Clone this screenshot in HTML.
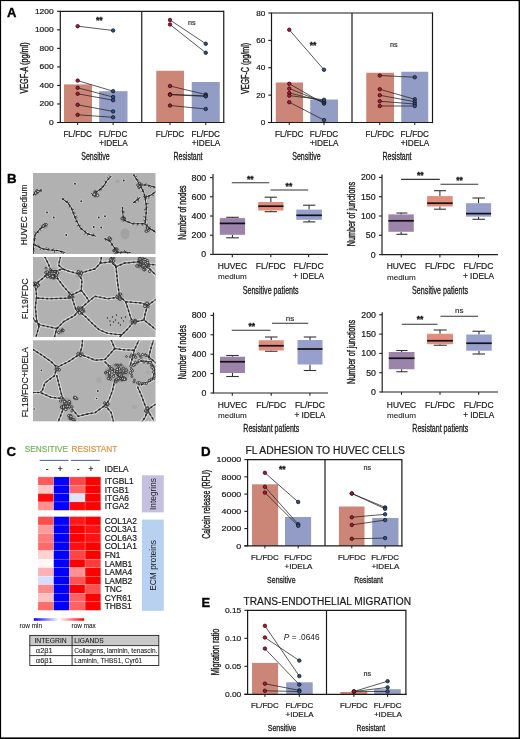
<!DOCTYPE html>
<html><head><meta charset="utf-8"><title>Figure</title>
<style>
html,body{margin:0;padding:0;background:#fff;}
body{width:520px;height:739px;overflow:hidden;}
svg{display:block;font-family:"Liberation Sans", sans-serif;will-change:transform;}
</style></head>
<body>
<svg width="520" height="739" viewBox="0 0 520 739">
<defs><clipPath id="c0"><rect x="33" y="173" width="122.5" height="81"/></clipPath><clipPath id="c1"><rect x="33" y="257" width="122.5" height="80"/></clipPath><clipPath id="c2"><rect x="33" y="340.3" width="122.5" height="81"/></clipPath></defs>
<rect x="0" y="0" width="520" height="739" fill="#fff"/>
<rect x="0" y="0" width="520" height="1.1" fill="#000"/>
<rect x="0" y="0" width="1.1" height="739" fill="#000"/>
<rect x="518.6" y="0" width="1.4" height="739" fill="#000"/>
<rect x="0" y="737.4" width="520" height="1.6" fill="#000"/>
<text x="6.9" y="17.4" font-size="13" font-weight="bold" fill="#000" stroke="#000" stroke-width="0.35">A</text>
<rect x="64" y="84.4" width="28" height="38.099999999999994" fill="#cc8678"/>
<rect x="99.2" y="91.2" width="28.3" height="31.299999999999997" fill="#929cc4"/>
<rect x="156.25" y="70.75" width="27.75" height="51.75" fill="#cc8678"/>
<rect x="191.75" y="82" width="28" height="40.5" fill="#929cc4"/>
<line x1="57.099999999999994" y1="122.5" x2="60.3" y2="122.5" stroke="#1a1a1a" stroke-width="1.1"/>
<text x="53.7" y="125.0" font-size="7.2" text-anchor="end" textLength="4.7" lengthAdjust="spacingAndGlyphs" fill="#1a1a1a" stroke="#1a1a1a" stroke-width="0.2">0</text>
<line x1="57.099999999999994" y1="103.96666666666667" x2="60.3" y2="103.96666666666667" stroke="#1a1a1a" stroke-width="1.1"/>
<text x="53.7" y="106.47" font-size="7.2" text-anchor="end" textLength="14.1" lengthAdjust="spacingAndGlyphs" fill="#1a1a1a" stroke="#1a1a1a" stroke-width="0.2">200</text>
<line x1="57.099999999999994" y1="85.43333333333334" x2="60.3" y2="85.43333333333334" stroke="#1a1a1a" stroke-width="1.1"/>
<text x="53.7" y="87.93" font-size="7.2" text-anchor="end" textLength="14.1" lengthAdjust="spacingAndGlyphs" fill="#1a1a1a" stroke="#1a1a1a" stroke-width="0.2">400</text>
<line x1="57.099999999999994" y1="66.9" x2="60.3" y2="66.9" stroke="#1a1a1a" stroke-width="1.1"/>
<text x="53.7" y="69.4" font-size="7.2" text-anchor="end" textLength="14.1" lengthAdjust="spacingAndGlyphs" fill="#1a1a1a" stroke="#1a1a1a" stroke-width="0.2">600</text>
<line x1="57.099999999999994" y1="48.36666666666666" x2="60.3" y2="48.36666666666666" stroke="#1a1a1a" stroke-width="1.1"/>
<text x="53.7" y="50.87" font-size="7.2" text-anchor="end" textLength="14.1" lengthAdjust="spacingAndGlyphs" fill="#1a1a1a" stroke="#1a1a1a" stroke-width="0.2">800</text>
<line x1="57.099999999999994" y1="29.83333333333333" x2="60.3" y2="29.83333333333333" stroke="#1a1a1a" stroke-width="1.1"/>
<text x="53.7" y="32.33" font-size="7.2" text-anchor="end" textLength="18.8" lengthAdjust="spacingAndGlyphs" fill="#1a1a1a" stroke="#1a1a1a" stroke-width="0.2">1000</text>
<line x1="57.099999999999994" y1="11.299999999999997" x2="60.3" y2="11.299999999999997" stroke="#1a1a1a" stroke-width="1.1"/>
<text x="53.7" y="13.8" font-size="7.2" text-anchor="end" textLength="18.8" lengthAdjust="spacingAndGlyphs" fill="#1a1a1a" stroke="#1a1a1a" stroke-width="0.2">1200</text>
<line x1="60.3" y1="11.3" x2="60.3" y2="123.05" stroke="#1a1a1a" stroke-width="1.2"/>
<line x1="59.699999999999996" y1="11.3" x2="223.75" y2="11.3" stroke="#1a1a1a" stroke-width="1.2"/>
<line x1="223.75" y1="10.700000000000001" x2="223.75" y2="123.1" stroke="#1a1a1a" stroke-width="1.2"/>
<line x1="141.75" y1="11.3" x2="141.75" y2="122.5" stroke="#1a1a1a" stroke-width="1.2"/>
<line x1="57.099999999999994" y1="122.5" x2="224.35" y2="122.5" stroke="#1a1a1a" stroke-width="1.2"/>
<line x1="77.65" y1="122.5" x2="77.65" y2="125.1" stroke="#1a1a1a" stroke-width="1"/>
<line x1="113.1" y1="122.5" x2="113.1" y2="125.1" stroke="#1a1a1a" stroke-width="1"/>
<line x1="170" y1="122.5" x2="170" y2="125.1" stroke="#1a1a1a" stroke-width="1"/>
<line x1="205.75" y1="122.5" x2="205.75" y2="125.1" stroke="#1a1a1a" stroke-width="1"/>
<line x1="77.65" y1="26.2" x2="113.1" y2="30.5" stroke="#222" stroke-width="0.75"/>
<line x1="77.65" y1="80.6" x2="113.1" y2="91.2" stroke="#222" stroke-width="0.75"/>
<line x1="77.65" y1="87.8" x2="113.1" y2="97" stroke="#222" stroke-width="0.75"/>
<line x1="77.65" y1="93.8" x2="113.1" y2="100.2" stroke="#222" stroke-width="0.75"/>
<line x1="77.65" y1="104.8" x2="113.1" y2="111.4" stroke="#222" stroke-width="0.75"/>
<line x1="77.65" y1="114.8" x2="113.1" y2="117.3" stroke="#222" stroke-width="0.75"/>
<circle cx="77.65" cy="26.2" r="1.75" fill="#c40a2c" stroke="#141414" stroke-width="0.75"/>
<circle cx="113.1" cy="30.5" r="1.75" fill="#28508c" stroke="#141414" stroke-width="0.75"/>
<circle cx="77.65" cy="80.6" r="1.75" fill="#c40a2c" stroke="#141414" stroke-width="0.75"/>
<circle cx="113.1" cy="91.2" r="1.75" fill="#28508c" stroke="#141414" stroke-width="0.75"/>
<circle cx="77.65" cy="87.8" r="1.75" fill="#c40a2c" stroke="#141414" stroke-width="0.75"/>
<circle cx="113.1" cy="97" r="1.75" fill="#28508c" stroke="#141414" stroke-width="0.75"/>
<circle cx="77.65" cy="93.8" r="1.75" fill="#c40a2c" stroke="#141414" stroke-width="0.75"/>
<circle cx="113.1" cy="100.2" r="1.75" fill="#28508c" stroke="#141414" stroke-width="0.75"/>
<circle cx="77.65" cy="104.8" r="1.75" fill="#c40a2c" stroke="#141414" stroke-width="0.75"/>
<circle cx="113.1" cy="111.4" r="1.75" fill="#28508c" stroke="#141414" stroke-width="0.75"/>
<circle cx="77.65" cy="114.8" r="1.75" fill="#c40a2c" stroke="#141414" stroke-width="0.75"/>
<circle cx="113.1" cy="117.3" r="1.75" fill="#28508c" stroke="#141414" stroke-width="0.75"/>
<line x1="170" y1="20.0" x2="205.75" y2="43.75" stroke="#222" stroke-width="0.75"/>
<line x1="170" y1="24.5" x2="205.75" y2="52.75" stroke="#222" stroke-width="0.75"/>
<line x1="170" y1="86" x2="205.75" y2="94.5" stroke="#222" stroke-width="0.75"/>
<line x1="170" y1="94.25" x2="205.75" y2="96" stroke="#222" stroke-width="0.75"/>
<line x1="170" y1="94.75" x2="205.75" y2="96.3" stroke="#222" stroke-width="0.75"/>
<line x1="170" y1="105.5" x2="205.75" y2="109" stroke="#222" stroke-width="0.75"/>
<circle cx="170" cy="20.0" r="1.75" fill="#c40a2c" stroke="#141414" stroke-width="0.75"/>
<circle cx="205.75" cy="43.75" r="1.75" fill="#28508c" stroke="#141414" stroke-width="0.75"/>
<circle cx="170" cy="24.5" r="1.75" fill="#c40a2c" stroke="#141414" stroke-width="0.75"/>
<circle cx="205.75" cy="52.75" r="1.75" fill="#28508c" stroke="#141414" stroke-width="0.75"/>
<circle cx="170" cy="86" r="1.75" fill="#c40a2c" stroke="#141414" stroke-width="0.75"/>
<circle cx="205.75" cy="94.5" r="1.75" fill="#28508c" stroke="#141414" stroke-width="0.75"/>
<circle cx="170" cy="94.25" r="1.75" fill="#c40a2c" stroke="#141414" stroke-width="0.75"/>
<circle cx="205.75" cy="96" r="1.75" fill="#28508c" stroke="#141414" stroke-width="0.75"/>
<circle cx="170" cy="94.75" r="1.75" fill="#c40a2c" stroke="#141414" stroke-width="0.75"/>
<circle cx="205.75" cy="96.3" r="1.75" fill="#28508c" stroke="#141414" stroke-width="0.75"/>
<circle cx="170" cy="105.5" r="1.75" fill="#c40a2c" stroke="#141414" stroke-width="0.75"/>
<circle cx="205.75" cy="109" r="1.75" fill="#28508c" stroke="#141414" stroke-width="0.75"/>
<text x="99.3" y="23.1" font-size="8.5" text-anchor="middle" font-weight="bold" fill="#1a1a1a" stroke="#1a1a1a" stroke-width="0.35">**</text>
<text x="191.75" y="24.5" font-size="7.2" text-anchor="middle" fill="#333" stroke="#333" stroke-width="0.2">ns</text>
<text x="28.2" y="68" font-size="10" text-anchor="middle" textLength="51.2" lengthAdjust="spacingAndGlyphs" stroke="#1a1a1a" stroke-width="0.38" fill="#1a1a1a" transform="rotate(-90 28.2 68)">VEGF-A (pg/ml)</text>
<rect x="275.75" y="82.5" width="27.25" height="40.0" fill="#cc8678"/>
<rect x="310.25" y="99.5" width="27.75" height="23.0" fill="#929cc4"/>
<rect x="366.25" y="72.75" width="27.75" height="49.75" fill="#cc8678"/>
<rect x="401.25" y="71.75" width="27" height="50.75" fill="#929cc4"/>
<line x1="268.3" y1="122.5" x2="271.5" y2="122.5" stroke="#1a1a1a" stroke-width="1.1"/>
<text x="265.4" y="125.0" font-size="7.2" text-anchor="end" textLength="4.55" lengthAdjust="spacingAndGlyphs" fill="#1a1a1a" stroke="#1a1a1a" stroke-width="0.2">0</text>
<line x1="268.3" y1="95.125" x2="271.5" y2="95.125" stroke="#1a1a1a" stroke-width="1.1"/>
<text x="265.4" y="97.62" font-size="7.2" text-anchor="end" textLength="9.1" lengthAdjust="spacingAndGlyphs" fill="#1a1a1a" stroke="#1a1a1a" stroke-width="0.2">20</text>
<line x1="268.3" y1="67.75" x2="271.5" y2="67.75" stroke="#1a1a1a" stroke-width="1.1"/>
<text x="265.4" y="70.25" font-size="7.2" text-anchor="end" textLength="9.1" lengthAdjust="spacingAndGlyphs" fill="#1a1a1a" stroke="#1a1a1a" stroke-width="0.2">40</text>
<line x1="268.3" y1="40.375" x2="271.5" y2="40.375" stroke="#1a1a1a" stroke-width="1.1"/>
<text x="265.4" y="42.88" font-size="7.2" text-anchor="end" textLength="9.1" lengthAdjust="spacingAndGlyphs" fill="#1a1a1a" stroke="#1a1a1a" stroke-width="0.2">60</text>
<line x1="268.3" y1="13.0" x2="271.5" y2="13.0" stroke="#1a1a1a" stroke-width="1.1"/>
<text x="265.4" y="15.5" font-size="7.2" text-anchor="end" textLength="9.1" lengthAdjust="spacingAndGlyphs" fill="#1a1a1a" stroke="#1a1a1a" stroke-width="0.2">80</text>
<line x1="271.5" y1="13" x2="271.5" y2="123.05" stroke="#1a1a1a" stroke-width="1.2"/>
<line x1="270.9" y1="13" x2="432.5" y2="13" stroke="#1a1a1a" stroke-width="1.2"/>
<line x1="432.5" y1="12.4" x2="432.5" y2="123.1" stroke="#1a1a1a" stroke-width="1.2"/>
<line x1="352" y1="13" x2="352" y2="122.5" stroke="#1a1a1a" stroke-width="1.2"/>
<line x1="268.3" y1="122.5" x2="433.1" y2="122.5" stroke="#1a1a1a" stroke-width="1.2"/>
<line x1="289.25" y1="122.5" x2="289.25" y2="125.1" stroke="#1a1a1a" stroke-width="1"/>
<line x1="324" y1="122.5" x2="324" y2="125.1" stroke="#1a1a1a" stroke-width="1"/>
<line x1="379.75" y1="122.5" x2="379.75" y2="125.1" stroke="#1a1a1a" stroke-width="1"/>
<line x1="414.75" y1="122.5" x2="414.75" y2="125.1" stroke="#1a1a1a" stroke-width="1"/>
<line x1="289.25" y1="29.75" x2="324" y2="69.75" stroke="#222" stroke-width="0.75"/>
<line x1="289.25" y1="83.8" x2="324" y2="103.6" stroke="#222" stroke-width="0.75"/>
<line x1="289.25" y1="88.6" x2="324" y2="102.4" stroke="#222" stroke-width="0.75"/>
<line x1="289.25" y1="93" x2="324" y2="101.4" stroke="#222" stroke-width="0.75"/>
<line x1="289.25" y1="95.65" x2="324" y2="99.8" stroke="#222" stroke-width="0.75"/>
<line x1="289.25" y1="102.2" x2="324" y2="120.1" stroke="#222" stroke-width="0.75"/>
<circle cx="289.25" cy="29.75" r="1.75" fill="#c40a2c" stroke="#141414" stroke-width="0.75"/>
<circle cx="324" cy="69.75" r="1.75" fill="#28508c" stroke="#141414" stroke-width="0.75"/>
<circle cx="289.25" cy="83.8" r="1.75" fill="#c40a2c" stroke="#141414" stroke-width="0.75"/>
<circle cx="324" cy="103.6" r="1.75" fill="#28508c" stroke="#141414" stroke-width="0.75"/>
<circle cx="289.25" cy="88.6" r="1.75" fill="#c40a2c" stroke="#141414" stroke-width="0.75"/>
<circle cx="324" cy="102.4" r="1.75" fill="#28508c" stroke="#141414" stroke-width="0.75"/>
<circle cx="289.25" cy="93" r="1.75" fill="#c40a2c" stroke="#141414" stroke-width="0.75"/>
<circle cx="324" cy="101.4" r="1.75" fill="#28508c" stroke="#141414" stroke-width="0.75"/>
<circle cx="289.25" cy="95.65" r="1.75" fill="#c40a2c" stroke="#141414" stroke-width="0.75"/>
<circle cx="324" cy="99.8" r="1.75" fill="#28508c" stroke="#141414" stroke-width="0.75"/>
<circle cx="289.25" cy="102.2" r="1.75" fill="#c40a2c" stroke="#141414" stroke-width="0.75"/>
<circle cx="324" cy="120.1" r="1.75" fill="#28508c" stroke="#141414" stroke-width="0.75"/>
<line x1="379.75" y1="75.5" x2="414.75" y2="77.25" stroke="#222" stroke-width="0.75"/>
<line x1="379.75" y1="89.25" x2="414.75" y2="99.25" stroke="#222" stroke-width="0.75"/>
<line x1="379.75" y1="95.25" x2="414.75" y2="101.75" stroke="#222" stroke-width="0.75"/>
<line x1="379.75" y1="101.25" x2="414.75" y2="104" stroke="#222" stroke-width="0.75"/>
<line x1="379.75" y1="106" x2="414.75" y2="106" stroke="#222" stroke-width="0.75"/>
<circle cx="379.75" cy="75.5" r="1.75" fill="#c40a2c" stroke="#141414" stroke-width="0.75"/>
<circle cx="414.75" cy="77.25" r="1.75" fill="#28508c" stroke="#141414" stroke-width="0.75"/>
<circle cx="379.75" cy="89.25" r="1.75" fill="#c40a2c" stroke="#141414" stroke-width="0.75"/>
<circle cx="414.75" cy="99.25" r="1.75" fill="#28508c" stroke="#141414" stroke-width="0.75"/>
<circle cx="379.75" cy="95.25" r="1.75" fill="#c40a2c" stroke="#141414" stroke-width="0.75"/>
<circle cx="414.75" cy="101.75" r="1.75" fill="#28508c" stroke="#141414" stroke-width="0.75"/>
<circle cx="379.75" cy="101.25" r="1.75" fill="#c40a2c" stroke="#141414" stroke-width="0.75"/>
<circle cx="414.75" cy="104" r="1.75" fill="#28508c" stroke="#141414" stroke-width="0.75"/>
<circle cx="379.75" cy="106" r="1.75" fill="#c40a2c" stroke="#141414" stroke-width="0.75"/>
<circle cx="414.75" cy="106" r="1.75" fill="#28508c" stroke="#141414" stroke-width="0.75"/>
<text x="313" y="48.1" font-size="8.5" text-anchor="middle" font-weight="bold" fill="#1a1a1a" stroke="#1a1a1a" stroke-width="0.35">**</text>
<text x="393.75" y="46.5" font-size="7.2" text-anchor="middle" fill="#333" stroke="#333" stroke-width="0.2">ns</text>
<text x="249.0" y="68.4" font-size="10" text-anchor="middle" textLength="51.2" lengthAdjust="spacingAndGlyphs" stroke="#1a1a1a" stroke-width="0.38" fill="#1a1a1a" transform="rotate(-90 249.0 68.4)">VEGF-C (pg/ml)</text>
<text x="77.65" y="137.1" font-size="8.3" text-anchor="middle" textLength="28.5" lengthAdjust="spacingAndGlyphs" fill="#1a1a1a" stroke="#1a1a1a" stroke-width="0.2">FL/FDC</text>
<text x="113.1" y="137.1" font-size="8.3" text-anchor="middle" textLength="28.5" lengthAdjust="spacingAndGlyphs" fill="#1a1a1a" stroke="#1a1a1a" stroke-width="0.2">FL/FDC</text>
<text x="113.39999999999999" y="146.0" font-size="8.3" text-anchor="middle" textLength="28.5" lengthAdjust="spacingAndGlyphs" fill="#1a1a1a" stroke="#1a1a1a" stroke-width="0.2">+IDELA</text>
<text x="170" y="137.1" font-size="8.3" text-anchor="middle" textLength="28.5" lengthAdjust="spacingAndGlyphs" fill="#1a1a1a" stroke="#1a1a1a" stroke-width="0.2">FL/FDC</text>
<text x="205.75" y="137.1" font-size="8.3" text-anchor="middle" textLength="28.5" lengthAdjust="spacingAndGlyphs" fill="#1a1a1a" stroke="#1a1a1a" stroke-width="0.2">FL/FDC</text>
<text x="206.05" y="146.0" font-size="8.3" text-anchor="middle" textLength="28.5" lengthAdjust="spacingAndGlyphs" fill="#1a1a1a" stroke="#1a1a1a" stroke-width="0.2">+IDELA</text>
<text x="289.25" y="137.1" font-size="8.3" text-anchor="middle" textLength="28.5" lengthAdjust="spacingAndGlyphs" fill="#1a1a1a" stroke="#1a1a1a" stroke-width="0.2">FL/FDC</text>
<text x="324" y="137.1" font-size="8.3" text-anchor="middle" textLength="28.5" lengthAdjust="spacingAndGlyphs" fill="#1a1a1a" stroke="#1a1a1a" stroke-width="0.2">FL/FDC</text>
<text x="324.3" y="146.0" font-size="8.3" text-anchor="middle" textLength="28.5" lengthAdjust="spacingAndGlyphs" fill="#1a1a1a" stroke="#1a1a1a" stroke-width="0.2">+IDELA</text>
<text x="379.75" y="137.1" font-size="8.3" text-anchor="middle" textLength="28.5" lengthAdjust="spacingAndGlyphs" fill="#1a1a1a" stroke="#1a1a1a" stroke-width="0.2">FL/FDC</text>
<text x="414.75" y="137.1" font-size="8.3" text-anchor="middle" textLength="28.5" lengthAdjust="spacingAndGlyphs" fill="#1a1a1a" stroke="#1a1a1a" stroke-width="0.2">FL/FDC</text>
<text x="415.05" y="146.0" font-size="8.3" text-anchor="middle" textLength="28.5" lengthAdjust="spacingAndGlyphs" fill="#1a1a1a" stroke="#1a1a1a" stroke-width="0.2">+IDELA</text>
<text x="95.5" y="159.8" font-size="10.5" text-anchor="middle" textLength="28.5" lengthAdjust="spacingAndGlyphs" fill="#1a1a1a" stroke="#1a1a1a" stroke-width="0.3">Sensitive</text>
<text x="188" y="159.8" font-size="10.5" text-anchor="middle" textLength="29" lengthAdjust="spacingAndGlyphs" fill="#1a1a1a" stroke="#1a1a1a" stroke-width="0.3">Resistant</text>
<text x="306.5" y="159.8" font-size="10.5" text-anchor="middle" textLength="28.5" lengthAdjust="spacingAndGlyphs" fill="#1a1a1a" stroke="#1a1a1a" stroke-width="0.3">Sensitive</text>
<text x="397" y="159.8" font-size="10.5" text-anchor="middle" textLength="29" lengthAdjust="spacingAndGlyphs" fill="#1a1a1a" stroke="#1a1a1a" stroke-width="0.3">Resistant</text>
<text x="7.1" y="183.4" font-size="13.3" font-weight="bold" fill="#000" stroke="#000" stroke-width="0.35">B</text>
<rect x="33" y="173" width="122.5" height="81" fill="#b1b1b1"/>
<g clip-path="url(#c0)">
<ellipse cx="125.0" cy="233.75" rx="4.5" ry="5.5" fill="#a2a2a2"/>
<ellipse cx="117.5" cy="181.25" rx="2" ry="2" fill="#a6a6a6"/>
<path d="M62.5 198.8 L67.5 202.5 L71.2 207.5 L75.0 217.5 L80.0 227.5 L87.5 233.8 L96.2 236.2" fill="none" stroke="#e2e2e2" stroke-width="2.55" stroke-linejoin="round" stroke-linecap="round" opacity="0.8"/>
<path d="M33.0 195.0 L37.5 192.0 L41.2 190.0" fill="none" stroke="#e2e2e2" stroke-width="2.55" stroke-linejoin="round" stroke-linecap="round" opacity="0.8"/>
<path d="M92.5 195.0 L97.5 191.2 L102.5 187.5 L107.5 180.0 L111.2 176.2" fill="none" stroke="#e2e2e2" stroke-width="2.55" stroke-linejoin="round" stroke-linecap="round" opacity="0.8"/>
<path d="M33.0 253.8 L33.8 245.0 L35.0 235.0 L40.0 228.8 L45.0 226.2" fill="none" stroke="#e2e2e2" stroke-width="2.55" stroke-linejoin="round" stroke-linecap="round" opacity="0.8"/>
<path d="M35.0 245.0 L42.5 248.8 L50.0 250.0 L57.5 250.5 L65.0 252.5" fill="none" stroke="#e2e2e2" stroke-width="2.55" stroke-linejoin="round" stroke-linecap="round" opacity="0.8"/>
<path d="M133.8 175.0 L140.0 185.0 L143.8 192.5 L145.0 197.5 L146.2 205.0 L146.2 212.5 L145.0 223.8 L150.0 228.8 L156.2 232.5" fill="none" stroke="#e2e2e2" stroke-width="2.55" stroke-linejoin="round" stroke-linecap="round" opacity="0.8"/>
<path d="M140.0 185.0 L147.5 185.0 L156.2 187.5" fill="none" stroke="#e2e2e2" stroke-width="2.55" stroke-linejoin="round" stroke-linecap="round" opacity="0.8"/>
<path d="M145.0 197.5 L151.2 195.0 L156.2 191.2" fill="none" stroke="#e2e2e2" stroke-width="2.55" stroke-linejoin="round" stroke-linecap="round" opacity="0.8"/>
<path d="M122.5 207.5 L123.0 215.0 L123.8 220.0 L132.5 223.8 L145.0 223.8" fill="none" stroke="#e2e2e2" stroke-width="2.55" stroke-linejoin="round" stroke-linecap="round" opacity="0.8"/>
<path d="M105.0 238.8 L110.0 241.2 L112.5 245.0 L117.5 252.5 L123.8 252.0 L130.0 252.5" fill="none" stroke="#e2e2e2" stroke-width="2.55" stroke-linejoin="round" stroke-linecap="round" opacity="0.8"/>
<path d="M133.8 202.5 L140.0 197.5" fill="none" stroke="#e2e2e2" stroke-width="2.55" stroke-linejoin="round" stroke-linecap="round" opacity="0.8"/>
<ellipse cx="95.5" cy="193.75" rx="3.0" ry="4.0" fill="#8a8a8a" opacity="0.5"/>
<ellipse cx="123.0" cy="218.75" rx="2.5" ry="3.5" fill="#8a8a8a" opacity="0.5"/>
<ellipse cx="140.0" cy="185.5" rx="3.0" ry="3.0" fill="#8a8a8a" opacity="0.5"/>
<ellipse cx="45.0" cy="226.25" rx="3.0" ry="2.5" fill="#8a8a8a" opacity="0.5"/>
<ellipse cx="36.25" cy="192.5" rx="3.0" ry="2.5" fill="#8a8a8a" opacity="0.5"/>
<ellipse cx="116.25" cy="251.25" rx="3.5" ry="3.0" fill="#8a8a8a" opacity="0.5"/>
<ellipse cx="147.5" cy="230.0" rx="3.0" ry="3.0" fill="#8a8a8a" opacity="0.5"/>
<ellipse cx="110.0" cy="239.5" rx="2.5" ry="2.5" fill="#8a8a8a" opacity="0.5"/>
<path d="M62.5 198.8 L67.5 202.5 L71.2 207.5 L75.0 217.5 L80.0 227.5 L87.5 233.8 L96.2 236.2" fill="none" stroke="#3c3c3c" stroke-width="1.05" stroke-linejoin="round" stroke-linecap="round"/>
<path d="M62.5 198.8 L67.5 202.5 L71.2 207.5 L75.0 217.5 L80.0 227.5 L87.5 233.8 L96.2 236.2" fill="none" stroke="#1e1e1e" stroke-width="1.55" stroke-linecap="round" stroke-dasharray="0.8 3.7" opacity="0.8"/>
<path d="M33.0 195.0 L37.5 192.0 L41.2 190.0" fill="none" stroke="#3c3c3c" stroke-width="1.05" stroke-linejoin="round" stroke-linecap="round"/>
<path d="M33.0 195.0 L37.5 192.0 L41.2 190.0" fill="none" stroke="#1e1e1e" stroke-width="1.55" stroke-linecap="round" stroke-dasharray="0.8 3.7" opacity="0.8"/>
<path d="M92.5 195.0 L97.5 191.2 L102.5 187.5 L107.5 180.0 L111.2 176.2" fill="none" stroke="#3c3c3c" stroke-width="1.05" stroke-linejoin="round" stroke-linecap="round"/>
<path d="M92.5 195.0 L97.5 191.2 L102.5 187.5 L107.5 180.0 L111.2 176.2" fill="none" stroke="#1e1e1e" stroke-width="1.55" stroke-linecap="round" stroke-dasharray="0.8 3.7" opacity="0.8"/>
<path d="M33.0 253.8 L33.8 245.0 L35.0 235.0 L40.0 228.8 L45.0 226.2" fill="none" stroke="#3c3c3c" stroke-width="1.05" stroke-linejoin="round" stroke-linecap="round"/>
<path d="M33.0 253.8 L33.8 245.0 L35.0 235.0 L40.0 228.8 L45.0 226.2" fill="none" stroke="#1e1e1e" stroke-width="1.55" stroke-linecap="round" stroke-dasharray="0.8 3.7" opacity="0.8"/>
<path d="M35.0 245.0 L42.5 248.8 L50.0 250.0 L57.5 250.5 L65.0 252.5" fill="none" stroke="#3c3c3c" stroke-width="1.05" stroke-linejoin="round" stroke-linecap="round"/>
<path d="M35.0 245.0 L42.5 248.8 L50.0 250.0 L57.5 250.5 L65.0 252.5" fill="none" stroke="#1e1e1e" stroke-width="1.55" stroke-linecap="round" stroke-dasharray="0.8 3.7" opacity="0.8"/>
<path d="M133.8 175.0 L140.0 185.0 L143.8 192.5 L145.0 197.5 L146.2 205.0 L146.2 212.5 L145.0 223.8 L150.0 228.8 L156.2 232.5" fill="none" stroke="#3c3c3c" stroke-width="1.05" stroke-linejoin="round" stroke-linecap="round"/>
<path d="M133.8 175.0 L140.0 185.0 L143.8 192.5 L145.0 197.5 L146.2 205.0 L146.2 212.5 L145.0 223.8 L150.0 228.8 L156.2 232.5" fill="none" stroke="#1e1e1e" stroke-width="1.55" stroke-linecap="round" stroke-dasharray="0.8 3.7" opacity="0.8"/>
<path d="M140.0 185.0 L147.5 185.0 L156.2 187.5" fill="none" stroke="#3c3c3c" stroke-width="1.05" stroke-linejoin="round" stroke-linecap="round"/>
<path d="M140.0 185.0 L147.5 185.0 L156.2 187.5" fill="none" stroke="#1e1e1e" stroke-width="1.55" stroke-linecap="round" stroke-dasharray="0.8 3.7" opacity="0.8"/>
<path d="M145.0 197.5 L151.2 195.0 L156.2 191.2" fill="none" stroke="#3c3c3c" stroke-width="1.05" stroke-linejoin="round" stroke-linecap="round"/>
<path d="M145.0 197.5 L151.2 195.0 L156.2 191.2" fill="none" stroke="#1e1e1e" stroke-width="1.55" stroke-linecap="round" stroke-dasharray="0.8 3.7" opacity="0.8"/>
<path d="M122.5 207.5 L123.0 215.0 L123.8 220.0 L132.5 223.8 L145.0 223.8" fill="none" stroke="#3c3c3c" stroke-width="1.05" stroke-linejoin="round" stroke-linecap="round"/>
<path d="M122.5 207.5 L123.0 215.0 L123.8 220.0 L132.5 223.8 L145.0 223.8" fill="none" stroke="#1e1e1e" stroke-width="1.55" stroke-linecap="round" stroke-dasharray="0.8 3.7" opacity="0.8"/>
<path d="M105.0 238.8 L110.0 241.2 L112.5 245.0 L117.5 252.5 L123.8 252.0 L130.0 252.5" fill="none" stroke="#3c3c3c" stroke-width="1.05" stroke-linejoin="round" stroke-linecap="round"/>
<path d="M105.0 238.8 L110.0 241.2 L112.5 245.0 L117.5 252.5 L123.8 252.0 L130.0 252.5" fill="none" stroke="#1e1e1e" stroke-width="1.55" stroke-linecap="round" stroke-dasharray="0.8 3.7" opacity="0.8"/>
<path d="M133.8 202.5 L140.0 197.5" fill="none" stroke="#3c3c3c" stroke-width="1.05" stroke-linejoin="round" stroke-linecap="round"/>
<path d="M133.8 202.5 L140.0 197.5" fill="none" stroke="#1e1e1e" stroke-width="1.55" stroke-linecap="round" stroke-dasharray="0.8 3.7" opacity="0.8"/>
<path d="M63.3 199.4L63.8 198.4M67.1 202.2L67.5 201.2M68.5 203.8L69.0 202.4M69.8 205.6L69.3 207.2M72.1 209.9L73.6 209.5M73.1 212.4L74.2 212.1M73.5 213.5L75.1 213.1M74.7 216.7L76.4 216.3M75.5 218.4L77.1 217.8M76.9 221.2L75.3 221.4M78.7 224.8L77.2 226.1M79.6 226.7L80.3 225.6M81.2 228.5L80.1 229.2M85.0 231.6L85.7 230.7M85.9 232.4L84.7 234.2M87.7 233.8L87.6 235.2M91.9 235.0L92.2 236.1M94.1 235.6L93.5 233.9M34.5 194.0L35.6 195.0M36.8 192.5L36.8 191.1M39.8 190.8L41.5 191.6M92.8 194.8L91.3 193.3M96.2 192.2L95.2 190.9M99.7 189.6L99.9 190.9M101.0 188.6L101.6 189.9M102.9 186.9L101.6 186.8M104.6 184.4L105.2 185.5M106.3 181.8L105.0 181.1M108.6 178.9L107.8 177.5M110.5 177.0L109.0 175.6M33.2 251.0L34.7 250.9M33.4 249.4L34.3 248.9M33.6 247.3L32.0 248.1M33.8 244.7L31.7 244.3M34.4 239.6L33.0 238.6M34.6 237.8L35.9 239.0M35.8 234.0L34.9 232.0M37.4 231.9L38.5 232.4M39.6 229.3L41.0 230.4M41.3 228.1L41.6 226.5M42.9 227.3L42.7 226.0M36.6 245.8L37.5 244.8M38.4 246.7L38.7 245.5M41.4 248.2L40.3 249.6M45.5 249.2L46.6 247.6M49.0 249.8L48.6 248.3M52.7 250.2L53.5 248.8M54.5 250.3L54.5 252.4M61.2 251.5L61.6 252.6M63.0 252.0L63.3 253.7M135.2 177.3L136.6 176.3M136.6 179.5L137.7 179.4M137.5 181.0L138.5 180.3M139.7 184.5L138.8 186.4M140.9 186.8L139.1 188.0M142.2 189.3L143.2 189.5M143.2 191.5L142.1 191.5M144.8 196.6L143.4 196.7M145.3 199.6L146.7 198.1M146.1 204.0L148.2 203.7M146.2 206.6L147.4 207.2M146.2 209.7L144.3 209.7M146.1 213.4L145.2 212.8M145.7 217.4L143.8 216.7M145.5 219.6L147.1 219.8M145.3 221.0L143.8 220.2M146.9 225.7L147.4 224.2M149.3 228.1L150.1 226.7M151.7 229.8L152.7 229.3M153.7 231.0L155.0 230.0M142.1 185.0L142.0 183.3M145.6 185.0L146.1 183.5M149.1 185.4L148.7 186.7M151.9 186.3L150.4 187.6M153.9 186.8L154.2 188.0M146.4 196.9L146.2 195.4M148.8 196.0L148.8 198.1M151.6 194.7L153.5 195.6M156.2 191.3L155.8 190.2M122.7 210.8L124.3 212.0M122.8 211.9L121.6 211.0M123.3 217.1L121.6 217.8M123.8 220.0L123.5 221.0M127.6 221.7L127.2 222.6M132.5 223.7L133.4 223.2M133.3 223.8L134.0 222.7M138.0 223.8L137.1 225.3M141.7 223.8L142.7 225.6M143.7 223.8L144.2 224.6M106.7 239.6L105.6 240.3M107.5 240.0L108.4 239.3M112.1 244.5L112.8 243.6M112.5 245.0L111.2 245.0M114.4 247.8L116.5 247.9M116.3 250.7L117.0 249.5M118.5 252.4L117.9 250.9M121.2 252.2L120.4 254.3M123.9 252.0L124.5 250.5M127.5 252.3L127.9 253.8M135.1 201.4L135.8 202.9M137.7 199.4L138.6 201.3M138.6 198.6L137.6 197.6" stroke="#2e2e2e" stroke-width="0.75" stroke-linecap="round" fill="none"/>
<circle cx="96.3" cy="194.2" r="0.84" fill="#d2d2d2" stroke="#262626" stroke-width="0.85"/>
<circle cx="95.4" cy="192.0" r="0.90" fill="#d2d2d2" stroke="#262626" stroke-width="0.85"/>
<circle cx="97.5" cy="195.4" r="1.32" fill="#d2d2d2" stroke="#262626" stroke-width="0.85"/>
<circle cx="94.9" cy="192.1" r="0.95" fill="#d2d2d2" stroke="#262626" stroke-width="0.85"/>
<circle cx="95.0" cy="196.0" r="0.89" fill="#d2d2d2" stroke="#262626" stroke-width="0.85"/>
<circle cx="94.3" cy="194.3" r="1.38" fill="#d2d2d2" stroke="#262626" stroke-width="0.85"/>
<circle cx="124.5" cy="218.4" r="0.95" fill="#d2d2d2" stroke="#262626" stroke-width="0.85"/>
<circle cx="124.1" cy="218.4" r="1.01" fill="#d2d2d2" stroke="#262626" stroke-width="0.85"/>
<circle cx="124.2" cy="218.8" r="1.08" fill="#d2d2d2" stroke="#262626" stroke-width="0.85"/>
<circle cx="122.1" cy="218.7" r="1.10" fill="#d2d2d2" stroke="#262626" stroke-width="0.85"/>
<circle cx="124.0" cy="218.8" r="0.85" fill="#d2d2d2" stroke="#262626" stroke-width="0.85"/>
<circle cx="139.6" cy="185.8" r="0.81" fill="#d2d2d2" stroke="#262626" stroke-width="0.85"/>
<circle cx="139.6" cy="186.6" r="1.15" fill="#d2d2d2" stroke="#262626" stroke-width="0.85"/>
<circle cx="137.9" cy="185.1" r="1.19" fill="#d2d2d2" stroke="#262626" stroke-width="0.85"/>
<circle cx="139.5" cy="183.2" r="1.03" fill="#d2d2d2" stroke="#262626" stroke-width="0.85"/>
<circle cx="138.9" cy="187.7" r="0.89" fill="#d2d2d2" stroke="#262626" stroke-width="0.85"/>
<circle cx="44.7" cy="224.7" r="0.83" fill="#d2d2d2" stroke="#262626" stroke-width="0.85"/>
<circle cx="46.2" cy="224.6" r="1.18" fill="#d2d2d2" stroke="#262626" stroke-width="0.85"/>
<circle cx="44.8" cy="224.5" r="0.88" fill="#d2d2d2" stroke="#262626" stroke-width="0.85"/>
<circle cx="43.2" cy="226.0" r="1.30" fill="#d2d2d2" stroke="#262626" stroke-width="0.85"/>
<circle cx="37.0" cy="190.8" r="1.15" fill="#d2d2d2" stroke="#262626" stroke-width="0.85"/>
<circle cx="37.9" cy="191.5" r="1.22" fill="#d2d2d2" stroke="#262626" stroke-width="0.85"/>
<circle cx="36.3" cy="192.9" r="0.88" fill="#d2d2d2" stroke="#262626" stroke-width="0.85"/>
<circle cx="35.7" cy="193.0" r="1.30" fill="#d2d2d2" stroke="#262626" stroke-width="0.85"/>
<circle cx="114.0" cy="250.5" r="1.18" fill="#d2d2d2" stroke="#262626" stroke-width="0.85"/>
<circle cx="115.4" cy="249.7" r="0.80" fill="#d2d2d2" stroke="#262626" stroke-width="0.85"/>
<circle cx="117.0" cy="249.2" r="1.10" fill="#d2d2d2" stroke="#262626" stroke-width="0.85"/>
<circle cx="113.9" cy="250.8" r="0.84" fill="#d2d2d2" stroke="#262626" stroke-width="0.85"/>
<circle cx="116.1" cy="250.0" r="0.84" fill="#d2d2d2" stroke="#262626" stroke-width="0.85"/>
<circle cx="116.0" cy="253.4" r="0.92" fill="#d2d2d2" stroke="#262626" stroke-width="0.85"/>
<circle cx="147.3" cy="227.5" r="1.10" fill="#d2d2d2" stroke="#262626" stroke-width="0.85"/>
<circle cx="146.2" cy="231.2" r="1.21" fill="#d2d2d2" stroke="#262626" stroke-width="0.85"/>
<circle cx="147.7" cy="228.0" r="1.19" fill="#d2d2d2" stroke="#262626" stroke-width="0.85"/>
<circle cx="148.3" cy="230.4" r="0.95" fill="#d2d2d2" stroke="#262626" stroke-width="0.85"/>
<circle cx="110.0" cy="238.4" r="1.14" fill="#d2d2d2" stroke="#262626" stroke-width="0.85"/>
<circle cx="110.5" cy="239.5" r="0.96" fill="#d2d2d2" stroke="#262626" stroke-width="0.85"/>
<circle cx="109.2" cy="238.0" r="1.21" fill="#d2d2d2" stroke="#262626" stroke-width="0.85"/>
<circle cx="123.75" cy="180.5" r="1.80" fill="#dadada" opacity="0.8"/>
<circle cx="123.75" cy="180.5" r="0.9" fill="#262626"/>
<circle cx="75.0" cy="183.75" r="1.80" fill="#dadada" opacity="0.8"/>
<circle cx="75.0" cy="183.75" r="0.9" fill="#262626"/>
<circle cx="47.0" cy="212.5" r="1.80" fill="#dadada" opacity="0.8"/>
<circle cx="47.0" cy="212.5" r="0.9" fill="#262626"/>
<circle cx="53.75" cy="217.5" r="1.80" fill="#dadada" opacity="0.8"/>
<circle cx="53.75" cy="217.5" r="0.9" fill="#262626"/>
<circle cx="66.25" cy="235.0" r="1.80" fill="#dadada" opacity="0.8"/>
<circle cx="66.25" cy="235.0" r="0.9" fill="#262626"/>
<circle cx="93.75" cy="227.0" r="1.80" fill="#dadada" opacity="0.8"/>
<circle cx="93.75" cy="227.0" r="0.9" fill="#262626"/>
<circle cx="101.25" cy="227.5" r="1.80" fill="#dadada" opacity="0.8"/>
<circle cx="101.25" cy="227.5" r="0.9" fill="#262626"/>
<circle cx="98.75" cy="217.5" r="1.80" fill="#dadada" opacity="0.8"/>
<circle cx="98.75" cy="217.5" r="0.9" fill="#262626"/>
<circle cx="81.25" cy="201.25" r="1.80" fill="#dadada" opacity="0.8"/>
<circle cx="81.25" cy="201.25" r="0.9" fill="#262626"/>
<circle cx="105.0" cy="216.25" r="1.80" fill="#dadada" opacity="0.8"/>
<circle cx="105.0" cy="216.25" r="0.9" fill="#262626"/>
</g>
<rect x="33" y="257" width="122.5" height="80" fill="#b1b1b1"/>
<g clip-path="url(#c1)">
<ellipse cx="82" cy="272" rx="2.5" ry="1.5" fill="#555"/>
<path d="M44.9 257.0 L48.5 264.2 L50.9 270.1" fill="none" stroke="#e2e2e2" stroke-width="3.55" stroke-linejoin="round" stroke-linecap="round" opacity="0.8"/>
<path d="M60.4 257.0 L58.6 265.3 L62.8 268.9" fill="none" stroke="#e2e2e2" stroke-width="3.55" stroke-linejoin="round" stroke-linecap="round" opacity="0.8"/>
<path d="M50.9 270.1 L56.0 271.0 L62.8 268.9 L68.8 271.3 L78.3 273.7 L86.7 271.3 L95.0 268.9 L100.3 263.1 L101.5 257.0" fill="none" stroke="#e2e2e2" stroke-width="3.55" stroke-linejoin="round" stroke-linecap="round" opacity="0.8"/>
<path d="M100.3 263.1 L111.2 261.8 L116.0 266.7" fill="none" stroke="#e2e2e2" stroke-width="3.55" stroke-linejoin="round" stroke-linecap="round" opacity="0.8"/>
<path d="M111.2 257.0 L112.4 260.6 L116.0 266.7" fill="none" stroke="#e2e2e2" stroke-width="3.55" stroke-linejoin="round" stroke-linecap="round" opacity="0.8"/>
<path d="M116.0 266.7 L117.2 278.8 L118.4 288.5 L119.7 295.8" fill="none" stroke="#e2e2e2" stroke-width="3.55" stroke-linejoin="round" stroke-linecap="round" opacity="0.8"/>
<path d="M116.0 266.7 L124.5 263.1 L139.0 261.8" fill="none" stroke="#e2e2e2" stroke-width="3.55" stroke-linejoin="round" stroke-linecap="round" opacity="0.8"/>
<path d="M139.0 261.8 L145.0 266.0 L149.9 269.1 L156.0 275.2" fill="none" stroke="#e2e2e2" stroke-width="3.55" stroke-linejoin="round" stroke-linecap="round" opacity="0.8"/>
<path d="M140.0 257.0 L142.0 261.8" fill="none" stroke="#e2e2e2" stroke-width="3.55" stroke-linejoin="round" stroke-linecap="round" opacity="0.8"/>
<path d="M148.0 264.0 L156.0 265.0" fill="none" stroke="#e2e2e2" stroke-width="3.55" stroke-linejoin="round" stroke-linecap="round" opacity="0.8"/>
<path d="M78.3 273.7 L81.9 279.7 L81.3 290.4 L71.2 295.2" fill="none" stroke="#e2e2e2" stroke-width="3.55" stroke-linejoin="round" stroke-linecap="round" opacity="0.8"/>
<path d="M50.9 272.0 L56.8 277.3 L62.8 285.6 L71.2 295.2" fill="none" stroke="#e2e2e2" stroke-width="3.55" stroke-linejoin="round" stroke-linecap="round" opacity="0.8"/>
<path d="M48.5 272.5 L42.5 278.5 L36.6 283.2 L33.0 286.0" fill="none" stroke="#e2e2e2" stroke-width="3.55" stroke-linejoin="round" stroke-linecap="round" opacity="0.8"/>
<path d="M35.4 284.4 L36.6 296.3 L35.4 307.1 L36.6 320.2 L39.0 326.2" fill="none" stroke="#e2e2e2" stroke-width="3.55" stroke-linejoin="round" stroke-linecap="round" opacity="0.8"/>
<path d="M37.8 298.1 L48.5 298.7 L68.8 298.1 L71.2 295.2" fill="none" stroke="#e2e2e2" stroke-width="3.55" stroke-linejoin="round" stroke-linecap="round" opacity="0.8"/>
<path d="M71.2 295.2 L73.5 302.3 L75.9 309.5 L78.3 310.7" fill="none" stroke="#e2e2e2" stroke-width="3.55" stroke-linejoin="round" stroke-linecap="round" opacity="0.8"/>
<path d="M78.3 310.7 L89.0 301.1 L95.0 296.3 L107.5 298.8 L119.7 297.0" fill="none" stroke="#e2e2e2" stroke-width="3.55" stroke-linejoin="round" stroke-linecap="round" opacity="0.8"/>
<path d="M81.3 290.4 L86.7 297.5 L89.0 301.1" fill="none" stroke="#e2e2e2" stroke-width="3.55" stroke-linejoin="round" stroke-linecap="round" opacity="0.8"/>
<path d="M78.3 310.7 L74.7 315.4 L64.0 321.4 L56.8 328.5 L54.5 337.0" fill="none" stroke="#e2e2e2" stroke-width="3.55" stroke-linejoin="round" stroke-linecap="round" opacity="0.8"/>
<path d="M56.8 328.5 L40.2 325.0 L35.4 321.4 L33.0 318.0" fill="none" stroke="#e2e2e2" stroke-width="3.55" stroke-linejoin="round" stroke-linecap="round" opacity="0.8"/>
<path d="M39.0 326.2 L36.0 337.0" fill="none" stroke="#e2e2e2" stroke-width="3.55" stroke-linejoin="round" stroke-linecap="round" opacity="0.8"/>
<path d="M78.3 310.7 L85.5 316.6 L92.6 323.8 L99.1 329.7 L107.5 333.3 L117.2 334.5 L122.1 334.5" fill="none" stroke="#e2e2e2" stroke-width="3.55" stroke-linejoin="round" stroke-linecap="round" opacity="0.8"/>
<path d="M119.7 295.8 L125.7 301.8 L141.5 303.0 L147.5 305.5 L156.0 299.4" fill="none" stroke="#e2e2e2" stroke-width="3.55" stroke-linejoin="round" stroke-linecap="round" opacity="0.8"/>
<path d="M147.5 305.5 L145.1 314.0 L143.9 320.0" fill="none" stroke="#e2e2e2" stroke-width="3.55" stroke-linejoin="round" stroke-linecap="round" opacity="0.8"/>
<path d="M125.7 301.8 L128.1 309.1 L130.6 317.6 L133.0 322.4" fill="none" stroke="#e2e2e2" stroke-width="3.55" stroke-linejoin="round" stroke-linecap="round" opacity="0.8"/>
<path d="M133.0 322.4 L143.9 320.0 L150.0 324.8 L156.0 329.7" fill="none" stroke="#e2e2e2" stroke-width="3.55" stroke-linejoin="round" stroke-linecap="round" opacity="0.8"/>
<path d="M133.0 322.4 L128.1 328.5 L122.1 334.5 L119.7 337.0" fill="none" stroke="#e2e2e2" stroke-width="3.55" stroke-linejoin="round" stroke-linecap="round" opacity="0.8"/>
<ellipse cx="52" cy="273" rx="7.0" ry="5.5" fill="#8a8a8a" opacity="0.5"/>
<ellipse cx="143" cy="264" rx="7.0" ry="6.5" fill="#8a8a8a" opacity="0.5"/>
<ellipse cx="79" cy="274" rx="3.5" ry="3.5" fill="#8a8a8a" opacity="0.5"/>
<ellipse cx="80.5" cy="310.5" rx="4.5" ry="4.0" fill="#8a8a8a" opacity="0.5"/>
<ellipse cx="119.7" cy="296.5" rx="4.0" ry="3.5" fill="#8a8a8a" opacity="0.5"/>
<ellipse cx="147" cy="305" rx="3.5" ry="3.5" fill="#8a8a8a" opacity="0.5"/>
<ellipse cx="133" cy="322" rx="4.0" ry="3.0" fill="#8a8a8a" opacity="0.5"/>
<ellipse cx="71" cy="295" rx="3.5" ry="3.5" fill="#8a8a8a" opacity="0.5"/>
<ellipse cx="61" cy="331" rx="3.5" ry="3.5" fill="#8a8a8a" opacity="0.5"/>
<ellipse cx="36" cy="285" rx="3.0" ry="3.5" fill="#8a8a8a" opacity="0.5"/>
<ellipse cx="112.5" cy="259" rx="3.5" ry="3.0" fill="#8a8a8a" opacity="0.5"/>
<path d="M44.9 257.0 L48.5 264.2 L50.9 270.1" fill="none" stroke="#3c3c3c" stroke-width="1.15" stroke-linejoin="round" stroke-linecap="round"/>
<path d="M44.9 257.0 L48.5 264.2 L50.9 270.1" fill="none" stroke="#d8d8d8" stroke-width="0.52" stroke-linecap="round" stroke-dasharray="1.2 2.3" opacity="0.7"/>
<path d="M44.9 257.0 L48.5 264.2 L50.9 270.1" fill="none" stroke="#1e1e1e" stroke-width="1.65" stroke-linecap="round" stroke-dasharray="0.8 3.7" opacity="0.8"/>
<path d="M60.4 257.0 L58.6 265.3 L62.8 268.9" fill="none" stroke="#3c3c3c" stroke-width="1.15" stroke-linejoin="round" stroke-linecap="round"/>
<path d="M60.4 257.0 L58.6 265.3 L62.8 268.9" fill="none" stroke="#d8d8d8" stroke-width="0.52" stroke-linecap="round" stroke-dasharray="1.2 2.3" opacity="0.7"/>
<path d="M60.4 257.0 L58.6 265.3 L62.8 268.9" fill="none" stroke="#1e1e1e" stroke-width="1.65" stroke-linecap="round" stroke-dasharray="0.8 3.7" opacity="0.8"/>
<path d="M50.9 270.1 L56.0 271.0 L62.8 268.9 L68.8 271.3 L78.3 273.7 L86.7 271.3 L95.0 268.9 L100.3 263.1 L101.5 257.0" fill="none" stroke="#3c3c3c" stroke-width="1.15" stroke-linejoin="round" stroke-linecap="round"/>
<path d="M50.9 270.1 L56.0 271.0 L62.8 268.9 L68.8 271.3 L78.3 273.7 L86.7 271.3 L95.0 268.9 L100.3 263.1 L101.5 257.0" fill="none" stroke="#d8d8d8" stroke-width="0.52" stroke-linecap="round" stroke-dasharray="1.2 2.3" opacity="0.7"/>
<path d="M50.9 270.1 L56.0 271.0 L62.8 268.9 L68.8 271.3 L78.3 273.7 L86.7 271.3 L95.0 268.9 L100.3 263.1 L101.5 257.0" fill="none" stroke="#1e1e1e" stroke-width="1.65" stroke-linecap="round" stroke-dasharray="0.8 3.7" opacity="0.8"/>
<path d="M100.3 263.1 L111.2 261.8 L116.0 266.7" fill="none" stroke="#3c3c3c" stroke-width="1.15" stroke-linejoin="round" stroke-linecap="round"/>
<path d="M100.3 263.1 L111.2 261.8 L116.0 266.7" fill="none" stroke="#d8d8d8" stroke-width="0.52" stroke-linecap="round" stroke-dasharray="1.2 2.3" opacity="0.7"/>
<path d="M100.3 263.1 L111.2 261.8 L116.0 266.7" fill="none" stroke="#1e1e1e" stroke-width="1.65" stroke-linecap="round" stroke-dasharray="0.8 3.7" opacity="0.8"/>
<path d="M111.2 257.0 L112.4 260.6 L116.0 266.7" fill="none" stroke="#3c3c3c" stroke-width="1.15" stroke-linejoin="round" stroke-linecap="round"/>
<path d="M111.2 257.0 L112.4 260.6 L116.0 266.7" fill="none" stroke="#d8d8d8" stroke-width="0.52" stroke-linecap="round" stroke-dasharray="1.2 2.3" opacity="0.7"/>
<path d="M111.2 257.0 L112.4 260.6 L116.0 266.7" fill="none" stroke="#1e1e1e" stroke-width="1.65" stroke-linecap="round" stroke-dasharray="0.8 3.7" opacity="0.8"/>
<path d="M116.0 266.7 L117.2 278.8 L118.4 288.5 L119.7 295.8" fill="none" stroke="#3c3c3c" stroke-width="1.15" stroke-linejoin="round" stroke-linecap="round"/>
<path d="M116.0 266.7 L117.2 278.8 L118.4 288.5 L119.7 295.8" fill="none" stroke="#d8d8d8" stroke-width="0.52" stroke-linecap="round" stroke-dasharray="1.2 2.3" opacity="0.7"/>
<path d="M116.0 266.7 L117.2 278.8 L118.4 288.5 L119.7 295.8" fill="none" stroke="#1e1e1e" stroke-width="1.65" stroke-linecap="round" stroke-dasharray="0.8 3.7" opacity="0.8"/>
<path d="M116.0 266.7 L124.5 263.1 L139.0 261.8" fill="none" stroke="#3c3c3c" stroke-width="1.15" stroke-linejoin="round" stroke-linecap="round"/>
<path d="M116.0 266.7 L124.5 263.1 L139.0 261.8" fill="none" stroke="#d8d8d8" stroke-width="0.52" stroke-linecap="round" stroke-dasharray="1.2 2.3" opacity="0.7"/>
<path d="M116.0 266.7 L124.5 263.1 L139.0 261.8" fill="none" stroke="#1e1e1e" stroke-width="1.65" stroke-linecap="round" stroke-dasharray="0.8 3.7" opacity="0.8"/>
<path d="M139.0 261.8 L145.0 266.0 L149.9 269.1 L156.0 275.2" fill="none" stroke="#3c3c3c" stroke-width="1.15" stroke-linejoin="round" stroke-linecap="round"/>
<path d="M139.0 261.8 L145.0 266.0 L149.9 269.1 L156.0 275.2" fill="none" stroke="#d8d8d8" stroke-width="0.52" stroke-linecap="round" stroke-dasharray="1.2 2.3" opacity="0.7"/>
<path d="M139.0 261.8 L145.0 266.0 L149.9 269.1 L156.0 275.2" fill="none" stroke="#1e1e1e" stroke-width="1.65" stroke-linecap="round" stroke-dasharray="0.8 3.7" opacity="0.8"/>
<path d="M140.0 257.0 L142.0 261.8" fill="none" stroke="#3c3c3c" stroke-width="1.15" stroke-linejoin="round" stroke-linecap="round"/>
<path d="M140.0 257.0 L142.0 261.8" fill="none" stroke="#d8d8d8" stroke-width="0.52" stroke-linecap="round" stroke-dasharray="1.2 2.3" opacity="0.7"/>
<path d="M140.0 257.0 L142.0 261.8" fill="none" stroke="#1e1e1e" stroke-width="1.65" stroke-linecap="round" stroke-dasharray="0.8 3.7" opacity="0.8"/>
<path d="M148.0 264.0 L156.0 265.0" fill="none" stroke="#3c3c3c" stroke-width="1.15" stroke-linejoin="round" stroke-linecap="round"/>
<path d="M148.0 264.0 L156.0 265.0" fill="none" stroke="#d8d8d8" stroke-width="0.52" stroke-linecap="round" stroke-dasharray="1.2 2.3" opacity="0.7"/>
<path d="M148.0 264.0 L156.0 265.0" fill="none" stroke="#1e1e1e" stroke-width="1.65" stroke-linecap="round" stroke-dasharray="0.8 3.7" opacity="0.8"/>
<path d="M78.3 273.7 L81.9 279.7 L81.3 290.4 L71.2 295.2" fill="none" stroke="#3c3c3c" stroke-width="1.15" stroke-linejoin="round" stroke-linecap="round"/>
<path d="M78.3 273.7 L81.9 279.7 L81.3 290.4 L71.2 295.2" fill="none" stroke="#d8d8d8" stroke-width="0.52" stroke-linecap="round" stroke-dasharray="1.2 2.3" opacity="0.7"/>
<path d="M78.3 273.7 L81.9 279.7 L81.3 290.4 L71.2 295.2" fill="none" stroke="#1e1e1e" stroke-width="1.65" stroke-linecap="round" stroke-dasharray="0.8 3.7" opacity="0.8"/>
<path d="M50.9 272.0 L56.8 277.3 L62.8 285.6 L71.2 295.2" fill="none" stroke="#3c3c3c" stroke-width="1.15" stroke-linejoin="round" stroke-linecap="round"/>
<path d="M50.9 272.0 L56.8 277.3 L62.8 285.6 L71.2 295.2" fill="none" stroke="#d8d8d8" stroke-width="0.52" stroke-linecap="round" stroke-dasharray="1.2 2.3" opacity="0.7"/>
<path d="M50.9 272.0 L56.8 277.3 L62.8 285.6 L71.2 295.2" fill="none" stroke="#1e1e1e" stroke-width="1.65" stroke-linecap="round" stroke-dasharray="0.8 3.7" opacity="0.8"/>
<path d="M48.5 272.5 L42.5 278.5 L36.6 283.2 L33.0 286.0" fill="none" stroke="#3c3c3c" stroke-width="1.15" stroke-linejoin="round" stroke-linecap="round"/>
<path d="M48.5 272.5 L42.5 278.5 L36.6 283.2 L33.0 286.0" fill="none" stroke="#d8d8d8" stroke-width="0.52" stroke-linecap="round" stroke-dasharray="1.2 2.3" opacity="0.7"/>
<path d="M48.5 272.5 L42.5 278.5 L36.6 283.2 L33.0 286.0" fill="none" stroke="#1e1e1e" stroke-width="1.65" stroke-linecap="round" stroke-dasharray="0.8 3.7" opacity="0.8"/>
<path d="M35.4 284.4 L36.6 296.3 L35.4 307.1 L36.6 320.2 L39.0 326.2" fill="none" stroke="#3c3c3c" stroke-width="1.15" stroke-linejoin="round" stroke-linecap="round"/>
<path d="M35.4 284.4 L36.6 296.3 L35.4 307.1 L36.6 320.2 L39.0 326.2" fill="none" stroke="#d8d8d8" stroke-width="0.52" stroke-linecap="round" stroke-dasharray="1.2 2.3" opacity="0.7"/>
<path d="M35.4 284.4 L36.6 296.3 L35.4 307.1 L36.6 320.2 L39.0 326.2" fill="none" stroke="#1e1e1e" stroke-width="1.65" stroke-linecap="round" stroke-dasharray="0.8 3.7" opacity="0.8"/>
<path d="M37.8 298.1 L48.5 298.7 L68.8 298.1 L71.2 295.2" fill="none" stroke="#3c3c3c" stroke-width="1.15" stroke-linejoin="round" stroke-linecap="round"/>
<path d="M37.8 298.1 L48.5 298.7 L68.8 298.1 L71.2 295.2" fill="none" stroke="#d8d8d8" stroke-width="0.52" stroke-linecap="round" stroke-dasharray="1.2 2.3" opacity="0.7"/>
<path d="M37.8 298.1 L48.5 298.7 L68.8 298.1 L71.2 295.2" fill="none" stroke="#1e1e1e" stroke-width="1.65" stroke-linecap="round" stroke-dasharray="0.8 3.7" opacity="0.8"/>
<path d="M71.2 295.2 L73.5 302.3 L75.9 309.5 L78.3 310.7" fill="none" stroke="#3c3c3c" stroke-width="1.15" stroke-linejoin="round" stroke-linecap="round"/>
<path d="M71.2 295.2 L73.5 302.3 L75.9 309.5 L78.3 310.7" fill="none" stroke="#d8d8d8" stroke-width="0.52" stroke-linecap="round" stroke-dasharray="1.2 2.3" opacity="0.7"/>
<path d="M71.2 295.2 L73.5 302.3 L75.9 309.5 L78.3 310.7" fill="none" stroke="#1e1e1e" stroke-width="1.65" stroke-linecap="round" stroke-dasharray="0.8 3.7" opacity="0.8"/>
<path d="M78.3 310.7 L89.0 301.1 L95.0 296.3 L107.5 298.8 L119.7 297.0" fill="none" stroke="#3c3c3c" stroke-width="1.15" stroke-linejoin="round" stroke-linecap="round"/>
<path d="M78.3 310.7 L89.0 301.1 L95.0 296.3 L107.5 298.8 L119.7 297.0" fill="none" stroke="#d8d8d8" stroke-width="0.52" stroke-linecap="round" stroke-dasharray="1.2 2.3" opacity="0.7"/>
<path d="M78.3 310.7 L89.0 301.1 L95.0 296.3 L107.5 298.8 L119.7 297.0" fill="none" stroke="#1e1e1e" stroke-width="1.65" stroke-linecap="round" stroke-dasharray="0.8 3.7" opacity="0.8"/>
<path d="M81.3 290.4 L86.7 297.5 L89.0 301.1" fill="none" stroke="#3c3c3c" stroke-width="1.15" stroke-linejoin="round" stroke-linecap="round"/>
<path d="M81.3 290.4 L86.7 297.5 L89.0 301.1" fill="none" stroke="#d8d8d8" stroke-width="0.52" stroke-linecap="round" stroke-dasharray="1.2 2.3" opacity="0.7"/>
<path d="M81.3 290.4 L86.7 297.5 L89.0 301.1" fill="none" stroke="#1e1e1e" stroke-width="1.65" stroke-linecap="round" stroke-dasharray="0.8 3.7" opacity="0.8"/>
<path d="M78.3 310.7 L74.7 315.4 L64.0 321.4 L56.8 328.5 L54.5 337.0" fill="none" stroke="#3c3c3c" stroke-width="1.15" stroke-linejoin="round" stroke-linecap="round"/>
<path d="M78.3 310.7 L74.7 315.4 L64.0 321.4 L56.8 328.5 L54.5 337.0" fill="none" stroke="#d8d8d8" stroke-width="0.52" stroke-linecap="round" stroke-dasharray="1.2 2.3" opacity="0.7"/>
<path d="M78.3 310.7 L74.7 315.4 L64.0 321.4 L56.8 328.5 L54.5 337.0" fill="none" stroke="#1e1e1e" stroke-width="1.65" stroke-linecap="round" stroke-dasharray="0.8 3.7" opacity="0.8"/>
<path d="M56.8 328.5 L40.2 325.0 L35.4 321.4 L33.0 318.0" fill="none" stroke="#3c3c3c" stroke-width="1.15" stroke-linejoin="round" stroke-linecap="round"/>
<path d="M56.8 328.5 L40.2 325.0 L35.4 321.4 L33.0 318.0" fill="none" stroke="#d8d8d8" stroke-width="0.52" stroke-linecap="round" stroke-dasharray="1.2 2.3" opacity="0.7"/>
<path d="M56.8 328.5 L40.2 325.0 L35.4 321.4 L33.0 318.0" fill="none" stroke="#1e1e1e" stroke-width="1.65" stroke-linecap="round" stroke-dasharray="0.8 3.7" opacity="0.8"/>
<path d="M39.0 326.2 L36.0 337.0" fill="none" stroke="#3c3c3c" stroke-width="1.15" stroke-linejoin="round" stroke-linecap="round"/>
<path d="M39.0 326.2 L36.0 337.0" fill="none" stroke="#d8d8d8" stroke-width="0.52" stroke-linecap="round" stroke-dasharray="1.2 2.3" opacity="0.7"/>
<path d="M39.0 326.2 L36.0 337.0" fill="none" stroke="#1e1e1e" stroke-width="1.65" stroke-linecap="round" stroke-dasharray="0.8 3.7" opacity="0.8"/>
<path d="M78.3 310.7 L85.5 316.6 L92.6 323.8 L99.1 329.7 L107.5 333.3 L117.2 334.5 L122.1 334.5" fill="none" stroke="#3c3c3c" stroke-width="1.15" stroke-linejoin="round" stroke-linecap="round"/>
<path d="M78.3 310.7 L85.5 316.6 L92.6 323.8 L99.1 329.7 L107.5 333.3 L117.2 334.5 L122.1 334.5" fill="none" stroke="#d8d8d8" stroke-width="0.52" stroke-linecap="round" stroke-dasharray="1.2 2.3" opacity="0.7"/>
<path d="M78.3 310.7 L85.5 316.6 L92.6 323.8 L99.1 329.7 L107.5 333.3 L117.2 334.5 L122.1 334.5" fill="none" stroke="#1e1e1e" stroke-width="1.65" stroke-linecap="round" stroke-dasharray="0.8 3.7" opacity="0.8"/>
<path d="M119.7 295.8 L125.7 301.8 L141.5 303.0 L147.5 305.5 L156.0 299.4" fill="none" stroke="#3c3c3c" stroke-width="1.15" stroke-linejoin="round" stroke-linecap="round"/>
<path d="M119.7 295.8 L125.7 301.8 L141.5 303.0 L147.5 305.5 L156.0 299.4" fill="none" stroke="#d8d8d8" stroke-width="0.52" stroke-linecap="round" stroke-dasharray="1.2 2.3" opacity="0.7"/>
<path d="M119.7 295.8 L125.7 301.8 L141.5 303.0 L147.5 305.5 L156.0 299.4" fill="none" stroke="#1e1e1e" stroke-width="1.65" stroke-linecap="round" stroke-dasharray="0.8 3.7" opacity="0.8"/>
<path d="M147.5 305.5 L145.1 314.0 L143.9 320.0" fill="none" stroke="#3c3c3c" stroke-width="1.15" stroke-linejoin="round" stroke-linecap="round"/>
<path d="M147.5 305.5 L145.1 314.0 L143.9 320.0" fill="none" stroke="#d8d8d8" stroke-width="0.52" stroke-linecap="round" stroke-dasharray="1.2 2.3" opacity="0.7"/>
<path d="M147.5 305.5 L145.1 314.0 L143.9 320.0" fill="none" stroke="#1e1e1e" stroke-width="1.65" stroke-linecap="round" stroke-dasharray="0.8 3.7" opacity="0.8"/>
<path d="M125.7 301.8 L128.1 309.1 L130.6 317.6 L133.0 322.4" fill="none" stroke="#3c3c3c" stroke-width="1.15" stroke-linejoin="round" stroke-linecap="round"/>
<path d="M125.7 301.8 L128.1 309.1 L130.6 317.6 L133.0 322.4" fill="none" stroke="#d8d8d8" stroke-width="0.52" stroke-linecap="round" stroke-dasharray="1.2 2.3" opacity="0.7"/>
<path d="M125.7 301.8 L128.1 309.1 L130.6 317.6 L133.0 322.4" fill="none" stroke="#1e1e1e" stroke-width="1.65" stroke-linecap="round" stroke-dasharray="0.8 3.7" opacity="0.8"/>
<path d="M133.0 322.4 L143.9 320.0 L150.0 324.8 L156.0 329.7" fill="none" stroke="#3c3c3c" stroke-width="1.15" stroke-linejoin="round" stroke-linecap="round"/>
<path d="M133.0 322.4 L143.9 320.0 L150.0 324.8 L156.0 329.7" fill="none" stroke="#d8d8d8" stroke-width="0.52" stroke-linecap="round" stroke-dasharray="1.2 2.3" opacity="0.7"/>
<path d="M133.0 322.4 L143.9 320.0 L150.0 324.8 L156.0 329.7" fill="none" stroke="#1e1e1e" stroke-width="1.65" stroke-linecap="round" stroke-dasharray="0.8 3.7" opacity="0.8"/>
<path d="M133.0 322.4 L128.1 328.5 L122.1 334.5 L119.7 337.0" fill="none" stroke="#3c3c3c" stroke-width="1.15" stroke-linejoin="round" stroke-linecap="round"/>
<path d="M133.0 322.4 L128.1 328.5 L122.1 334.5 L119.7 337.0" fill="none" stroke="#d8d8d8" stroke-width="0.52" stroke-linecap="round" stroke-dasharray="1.2 2.3" opacity="0.7"/>
<path d="M133.0 322.4 L128.1 328.5 L122.1 334.5 L119.7 337.0" fill="none" stroke="#1e1e1e" stroke-width="1.65" stroke-linecap="round" stroke-dasharray="0.8 3.7" opacity="0.8"/>
<circle cx="50.8" cy="276.5" r="1.08" fill="#d2d2d2" stroke="#262626" stroke-width="0.85"/>
<circle cx="49.8" cy="273.4" r="1.34" fill="#d2d2d2" stroke="#262626" stroke-width="0.85"/>
<circle cx="54.0" cy="277.7" r="1.36" fill="#d2d2d2" stroke="#262626" stroke-width="0.85"/>
<circle cx="56.4" cy="273.4" r="1.29" fill="#d2d2d2" stroke="#262626" stroke-width="0.85"/>
<circle cx="56.3" cy="272.3" r="0.96" fill="#d2d2d2" stroke="#262626" stroke-width="0.85"/>
<circle cx="53.6" cy="277.7" r="0.93" fill="#d2d2d2" stroke="#262626" stroke-width="0.85"/>
<circle cx="49.9" cy="272.1" r="1.11" fill="#d2d2d2" stroke="#262626" stroke-width="0.85"/>
<circle cx="54.3" cy="272.5" r="1.29" fill="#d2d2d2" stroke="#262626" stroke-width="0.85"/>
<circle cx="45.9" cy="272.7" r="1.22" fill="#d2d2d2" stroke="#262626" stroke-width="0.85"/>
<circle cx="52.7" cy="277.7" r="1.09" fill="#d2d2d2" stroke="#262626" stroke-width="0.85"/>
<circle cx="52.4" cy="273.0" r="1.10" fill="#d2d2d2" stroke="#262626" stroke-width="0.85"/>
<circle cx="48.6" cy="273.8" r="0.88" fill="#d2d2d2" stroke="#262626" stroke-width="0.85"/>
<circle cx="50.0" cy="275.3" r="1.30" fill="#d2d2d2" stroke="#262626" stroke-width="0.85"/>
<circle cx="57.6" cy="273.0" r="1.30" fill="#d2d2d2" stroke="#262626" stroke-width="0.85"/>
<circle cx="56.6" cy="276.3" r="1.23" fill="#d2d2d2" stroke="#262626" stroke-width="0.85"/>
<circle cx="54.9" cy="271.4" r="1.02" fill="#d2d2d2" stroke="#262626" stroke-width="0.85"/>
<circle cx="46.9" cy="276.1" r="1.15" fill="#d2d2d2" stroke="#262626" stroke-width="0.85"/>
<circle cx="49.3" cy="275.5" r="0.97" fill="#d2d2d2" stroke="#262626" stroke-width="0.85"/>
<circle cx="54.0" cy="273.5" r="1.30" fill="#d2d2d2" stroke="#262626" stroke-width="0.85"/>
<circle cx="50.6" cy="277.7" r="0.95" fill="#d2d2d2" stroke="#262626" stroke-width="0.85"/>
<circle cx="51.5" cy="276.6" r="0.91" fill="#d2d2d2" stroke="#262626" stroke-width="0.85"/>
<circle cx="47.6" cy="276.5" r="1.33" fill="#d2d2d2" stroke="#262626" stroke-width="0.85"/>
<circle cx="145.0" cy="259.6" r="1.35" fill="#d2d2d2" stroke="#262626" stroke-width="0.85"/>
<circle cx="147.5" cy="262.4" r="1.23" fill="#d2d2d2" stroke="#262626" stroke-width="0.85"/>
<circle cx="148.3" cy="265.6" r="1.07" fill="#d2d2d2" stroke="#262626" stroke-width="0.85"/>
<circle cx="143.1" cy="259.2" r="0.97" fill="#d2d2d2" stroke="#262626" stroke-width="0.85"/>
<circle cx="149.0" cy="265.7" r="0.88" fill="#d2d2d2" stroke="#262626" stroke-width="0.85"/>
<circle cx="139.2" cy="264.6" r="0.98" fill="#d2d2d2" stroke="#262626" stroke-width="0.85"/>
<circle cx="142.6" cy="258.1" r="0.96" fill="#d2d2d2" stroke="#262626" stroke-width="0.85"/>
<circle cx="141.0" cy="261.3" r="1.13" fill="#d2d2d2" stroke="#262626" stroke-width="0.85"/>
<circle cx="140.9" cy="265.5" r="0.90" fill="#d2d2d2" stroke="#262626" stroke-width="0.85"/>
<circle cx="144.6" cy="269.5" r="1.10" fill="#d2d2d2" stroke="#262626" stroke-width="0.85"/>
<circle cx="144.2" cy="269.6" r="1.40" fill="#d2d2d2" stroke="#262626" stroke-width="0.85"/>
<circle cx="140.7" cy="264.7" r="0.92" fill="#d2d2d2" stroke="#262626" stroke-width="0.85"/>
<circle cx="146.2" cy="265.9" r="0.85" fill="#d2d2d2" stroke="#262626" stroke-width="0.85"/>
<circle cx="143.2" cy="267.0" r="1.14" fill="#d2d2d2" stroke="#262626" stroke-width="0.85"/>
<circle cx="147.3" cy="260.6" r="1.05" fill="#d2d2d2" stroke="#262626" stroke-width="0.85"/>
<circle cx="139.0" cy="266.2" r="1.03" fill="#d2d2d2" stroke="#262626" stroke-width="0.85"/>
<circle cx="142.1" cy="265.3" r="0.97" fill="#d2d2d2" stroke="#262626" stroke-width="0.85"/>
<circle cx="145.3" cy="263.6" r="1.10" fill="#d2d2d2" stroke="#262626" stroke-width="0.85"/>
<circle cx="138.9" cy="259.9" r="0.93" fill="#d2d2d2" stroke="#262626" stroke-width="0.85"/>
<circle cx="142.6" cy="267.0" r="1.04" fill="#d2d2d2" stroke="#262626" stroke-width="0.85"/>
<circle cx="137.0" cy="266.0" r="1.31" fill="#d2d2d2" stroke="#262626" stroke-width="0.85"/>
<circle cx="143.7" cy="263.4" r="0.82" fill="#d2d2d2" stroke="#262626" stroke-width="0.85"/>
<circle cx="78.3" cy="271.3" r="1.08" fill="#d2d2d2" stroke="#262626" stroke-width="0.85"/>
<circle cx="79.0" cy="274.0" r="1.03" fill="#d2d2d2" stroke="#262626" stroke-width="0.85"/>
<circle cx="81.4" cy="272.8" r="1.31" fill="#d2d2d2" stroke="#262626" stroke-width="0.85"/>
<circle cx="80.5" cy="273.7" r="0.87" fill="#d2d2d2" stroke="#262626" stroke-width="0.85"/>
<circle cx="80.2" cy="275.8" r="1.21" fill="#d2d2d2" stroke="#262626" stroke-width="0.85"/>
<circle cx="81.4" cy="273.1" r="1.19" fill="#d2d2d2" stroke="#262626" stroke-width="0.85"/>
<circle cx="80.8" cy="308.1" r="1.13" fill="#d2d2d2" stroke="#262626" stroke-width="0.85"/>
<circle cx="83.9" cy="311.3" r="0.94" fill="#d2d2d2" stroke="#262626" stroke-width="0.85"/>
<circle cx="83.3" cy="309.1" r="0.98" fill="#d2d2d2" stroke="#262626" stroke-width="0.85"/>
<circle cx="81.9" cy="311.8" r="1.18" fill="#d2d2d2" stroke="#262626" stroke-width="0.85"/>
<circle cx="80.1" cy="309.4" r="0.84" fill="#d2d2d2" stroke="#262626" stroke-width="0.85"/>
<circle cx="77.5" cy="310.1" r="1.03" fill="#d2d2d2" stroke="#262626" stroke-width="0.85"/>
<circle cx="81.0" cy="313.2" r="0.81" fill="#d2d2d2" stroke="#262626" stroke-width="0.85"/>
<circle cx="79.6" cy="312.8" r="1.38" fill="#d2d2d2" stroke="#262626" stroke-width="0.85"/>
<circle cx="78.2" cy="307.9" r="1.09" fill="#d2d2d2" stroke="#262626" stroke-width="0.85"/>
<circle cx="119.9" cy="298.0" r="1.38" fill="#d2d2d2" stroke="#262626" stroke-width="0.85"/>
<circle cx="119.2" cy="294.9" r="0.81" fill="#d2d2d2" stroke="#262626" stroke-width="0.85"/>
<circle cx="116.8" cy="296.5" r="1.05" fill="#d2d2d2" stroke="#262626" stroke-width="0.85"/>
<circle cx="119.6" cy="298.9" r="1.36" fill="#d2d2d2" stroke="#262626" stroke-width="0.85"/>
<circle cx="119.8" cy="297.0" r="1.00" fill="#d2d2d2" stroke="#262626" stroke-width="0.85"/>
<circle cx="117.2" cy="297.7" r="0.92" fill="#d2d2d2" stroke="#262626" stroke-width="0.85"/>
<circle cx="120.6" cy="294.0" r="1.10" fill="#d2d2d2" stroke="#262626" stroke-width="0.85"/>
<circle cx="120.7" cy="299.3" r="0.99" fill="#d2d2d2" stroke="#262626" stroke-width="0.85"/>
<circle cx="147.6" cy="303.7" r="0.93" fill="#d2d2d2" stroke="#262626" stroke-width="0.85"/>
<circle cx="147.1" cy="303.4" r="1.37" fill="#d2d2d2" stroke="#262626" stroke-width="0.85"/>
<circle cx="145.7" cy="305.0" r="0.93" fill="#d2d2d2" stroke="#262626" stroke-width="0.85"/>
<circle cx="144.9" cy="306.2" r="1.37" fill="#d2d2d2" stroke="#262626" stroke-width="0.85"/>
<circle cx="148.1" cy="306.5" r="0.93" fill="#d2d2d2" stroke="#262626" stroke-width="0.85"/>
<circle cx="148.1" cy="304.8" r="0.83" fill="#d2d2d2" stroke="#262626" stroke-width="0.85"/>
<circle cx="135.0" cy="322.6" r="1.34" fill="#d2d2d2" stroke="#262626" stroke-width="0.85"/>
<circle cx="135.2" cy="320.6" r="1.40" fill="#d2d2d2" stroke="#262626" stroke-width="0.85"/>
<circle cx="134.8" cy="321.4" r="0.91" fill="#d2d2d2" stroke="#262626" stroke-width="0.85"/>
<circle cx="135.8" cy="321.2" r="0.82" fill="#d2d2d2" stroke="#262626" stroke-width="0.85"/>
<circle cx="131.9" cy="320.7" r="1.02" fill="#d2d2d2" stroke="#262626" stroke-width="0.85"/>
<circle cx="132.3" cy="322.9" r="0.80" fill="#d2d2d2" stroke="#262626" stroke-width="0.85"/>
<circle cx="70.7" cy="296.7" r="1.37" fill="#d2d2d2" stroke="#262626" stroke-width="0.85"/>
<circle cx="73.1" cy="297.1" r="0.92" fill="#d2d2d2" stroke="#262626" stroke-width="0.85"/>
<circle cx="69.3" cy="297.1" r="1.29" fill="#d2d2d2" stroke="#262626" stroke-width="0.85"/>
<circle cx="70.4" cy="295.3" r="1.08" fill="#d2d2d2" stroke="#262626" stroke-width="0.85"/>
<circle cx="69.0" cy="297.1" r="0.92" fill="#d2d2d2" stroke="#262626" stroke-width="0.85"/>
<circle cx="69.1" cy="297.1" r="0.82" fill="#d2d2d2" stroke="#262626" stroke-width="0.85"/>
<circle cx="58.7" cy="332.4" r="1.26" fill="#d2d2d2" stroke="#262626" stroke-width="0.85"/>
<circle cx="61.5" cy="331.1" r="0.84" fill="#d2d2d2" stroke="#262626" stroke-width="0.85"/>
<circle cx="62.3" cy="330.3" r="1.25" fill="#d2d2d2" stroke="#262626" stroke-width="0.85"/>
<circle cx="62.4" cy="330.0" r="0.96" fill="#d2d2d2" stroke="#262626" stroke-width="0.85"/>
<circle cx="63.3" cy="330.4" r="0.96" fill="#d2d2d2" stroke="#262626" stroke-width="0.85"/>
<circle cx="35.7" cy="283.3" r="0.97" fill="#d2d2d2" stroke="#262626" stroke-width="0.85"/>
<circle cx="38.2" cy="285.1" r="1.35" fill="#d2d2d2" stroke="#262626" stroke-width="0.85"/>
<circle cx="34.4" cy="282.8" r="0.81" fill="#d2d2d2" stroke="#262626" stroke-width="0.85"/>
<circle cx="36.2" cy="287.1" r="1.37" fill="#d2d2d2" stroke="#262626" stroke-width="0.85"/>
<circle cx="37.5" cy="284.5" r="0.95" fill="#d2d2d2" stroke="#262626" stroke-width="0.85"/>
<circle cx="110.6" cy="259.7" r="1.36" fill="#d2d2d2" stroke="#262626" stroke-width="0.85"/>
<circle cx="113.6" cy="261.0" r="1.24" fill="#d2d2d2" stroke="#262626" stroke-width="0.85"/>
<circle cx="113.7" cy="257.0" r="1.16" fill="#d2d2d2" stroke="#262626" stroke-width="0.85"/>
<circle cx="111.7" cy="260.2" r="1.02" fill="#d2d2d2" stroke="#262626" stroke-width="0.85"/>
<circle cx="112.7" cy="258.3" r="0.92" fill="#d2d2d2" stroke="#262626" stroke-width="0.85"/>
<circle cx="112.5" cy="257.8" r="0.84" fill="#d2d2d2" stroke="#262626" stroke-width="0.85"/>
<circle cx="45.9" cy="268.2" r="0.93" fill="#cdcdcd" stroke="#2a2a2a" stroke-width="0.8"/>
<circle cx="47.3" cy="272.0" r="1.29" fill="#cdcdcd" stroke="#2a2a2a" stroke-width="0.8"/>
<circle cx="50.5" cy="269.5" r="0.80" fill="#cdcdcd" stroke="#2a2a2a" stroke-width="0.8"/>
<circle cx="49.9" cy="273.4" r="1.00" fill="#cdcdcd" stroke="#2a2a2a" stroke-width="0.8"/>
<circle cx="51.9" cy="273.4" r="1.09" fill="#cdcdcd" stroke="#2a2a2a" stroke-width="0.8"/>
<circle cx="52.7" cy="276.4" r="1.22" fill="#cdcdcd" stroke="#2a2a2a" stroke-width="0.8"/>
<circle cx="56.2" cy="275.0" r="1.21" fill="#cdcdcd" stroke="#2a2a2a" stroke-width="0.8"/>
<circle cx="56.4" cy="277.6" r="0.96" fill="#cdcdcd" stroke="#2a2a2a" stroke-width="0.8"/>
<circle cx="139.2" cy="258.3" r="0.89" fill="#cdcdcd" stroke="#2a2a2a" stroke-width="0.8"/>
<circle cx="140.0" cy="259.0" r="1.24" fill="#cdcdcd" stroke="#2a2a2a" stroke-width="0.8"/>
<circle cx="141.1" cy="261.8" r="0.97" fill="#cdcdcd" stroke="#2a2a2a" stroke-width="0.8"/>
<circle cx="142.3" cy="264.3" r="0.88" fill="#cdcdcd" stroke="#2a2a2a" stroke-width="0.8"/>
<circle cx="142.9" cy="266.0" r="1.30" fill="#cdcdcd" stroke="#2a2a2a" stroke-width="0.8"/>
<circle cx="143.9" cy="265.7" r="1.20" fill="#cdcdcd" stroke="#2a2a2a" stroke-width="0.8"/>
<circle cx="145.1" cy="269.7" r="0.77" fill="#cdcdcd" stroke="#2a2a2a" stroke-width="0.8"/>
<circle cx="148.3" cy="267.2" r="0.85" fill="#cdcdcd" stroke="#2a2a2a" stroke-width="0.8"/>
<circle cx="149.7" cy="271.3" r="1.26" fill="#cdcdcd" stroke="#2a2a2a" stroke-width="0.8"/>
<circle cx="107.5" cy="318" r="0.65" fill="#262626"/>
<circle cx="110.0" cy="321" r="0.65" fill="#262626"/>
<circle cx="112.5" cy="317" r="0.65" fill="#262626"/>
<circle cx="115.5" cy="320" r="0.65" fill="#262626"/>
<circle cx="118.5" cy="323" r="0.65" fill="#262626"/>
<circle cx="121.5" cy="318" r="0.65" fill="#262626"/>
<circle cx="123.5" cy="321" r="0.65" fill="#262626"/>
<circle cx="110.5" cy="325" r="0.65" fill="#262626"/>
<circle cx="116.5" cy="315" r="0.65" fill="#262626"/>
<circle cx="120.5" cy="325" r="0.65" fill="#262626"/>
<circle cx="125.5" cy="317" r="0.65" fill="#262626"/>
<circle cx="113.5" cy="322" r="0.65" fill="#262626"/>
</g>
<rect x="33" y="340.3" width="122.5" height="81" fill="#b1b1b1"/>
<g clip-path="url(#c2)">
<ellipse cx="99" cy="380" rx="3" ry="3" fill="#a8a8a8"/>
<ellipse cx="134.5" cy="407" rx="3" ry="2" fill="#a8a8a8"/>
<ellipse cx="148" cy="372" rx="2" ry="2" fill="#a8a8a8"/>
<path d="M33.0 349.5 L42.5 355.5 L50.9 361.5 L56.8 367.4" fill="none" stroke="#e2e2e2" stroke-width="3.55" stroke-linejoin="round" stroke-linecap="round" opacity="0.8"/>
<path d="M56.8 367.4 L68.8 361.5 L79.5 354.3" fill="none" stroke="#e2e2e2" stroke-width="3.55" stroke-linejoin="round" stroke-linecap="round" opacity="0.8"/>
<path d="M79.5 354.3 L81.9 347.2 L82.5 340.0" fill="none" stroke="#e2e2e2" stroke-width="3.55" stroke-linejoin="round" stroke-linecap="round" opacity="0.8"/>
<path d="M79.5 354.3 L86.7 356.7 L95.0 360.3 L105.1 359.4 L114.8 348.5 L111.2 340.0" fill="none" stroke="#e2e2e2" stroke-width="3.55" stroke-linejoin="round" stroke-linecap="round" opacity="0.8"/>
<path d="M114.8 348.5 L123.3 349.7 L134.2 350.3 L139.0 340.0" fill="none" stroke="#e2e2e2" stroke-width="3.55" stroke-linejoin="round" stroke-linecap="round" opacity="0.8"/>
<path d="M134.2 350.3 L133.0 355.8 L130.6 364.2" fill="none" stroke="#e2e2e2" stroke-width="3.55" stroke-linejoin="round" stroke-linecap="round" opacity="0.8"/>
<path d="M148.7 357.0 L151.2 347.3 L153.6 340.0" fill="none" stroke="#e2e2e2" stroke-width="3.55" stroke-linejoin="round" stroke-linecap="round" opacity="0.8"/>
<path d="M148.7 357.0 L156.0 363.0" fill="none" stroke="#e2e2e2" stroke-width="3.55" stroke-linejoin="round" stroke-linecap="round" opacity="0.8"/>
<path d="M133.0 364.2 L141.0 361.0 L151.2 361.8 L154.8 370.3 L152.4 380.0 L141.5 384.8" fill="none" stroke="#e2e2e2" stroke-width="3.55" stroke-linejoin="round" stroke-linecap="round" opacity="0.8"/>
<path d="M56.8 367.4 L54.5 375.8 L44.9 382.9 L42.5 390.1 L40.2 392.5" fill="none" stroke="#e2e2e2" stroke-width="3.55" stroke-linejoin="round" stroke-linecap="round" opacity="0.8"/>
<path d="M33.0 392.5 L40.2 392.5 L50.9 397.2 L60.4 398.4" fill="none" stroke="#e2e2e2" stroke-width="3.55" stroke-linejoin="round" stroke-linecap="round" opacity="0.8"/>
<path d="M56.8 375.8 L59.2 385.3 L61.6 394.8 L64.0 400.8" fill="none" stroke="#e2e2e2" stroke-width="3.55" stroke-linejoin="round" stroke-linecap="round" opacity="0.8"/>
<path d="M64.0 406.8 L60.4 416.3 L58.0 422.0" fill="none" stroke="#e2e2e2" stroke-width="3.55" stroke-linejoin="round" stroke-linecap="round" opacity="0.8"/>
<path d="M72.3 409.2 L78.3 416.3 L87.8 413.9 L95.0 412.7 L105.1 405.4" fill="none" stroke="#e2e2e2" stroke-width="3.55" stroke-linejoin="round" stroke-linecap="round" opacity="0.8"/>
<path d="M114.8 380.0 L112.4 390.9 L108.7 400.6 L105.1 405.4" fill="none" stroke="#e2e2e2" stroke-width="3.55" stroke-linejoin="round" stroke-linecap="round" opacity="0.8"/>
<path d="M105.1 405.4 L111.2 412.7 L113.6 422.0" fill="none" stroke="#e2e2e2" stroke-width="3.55" stroke-linejoin="round" stroke-linecap="round" opacity="0.8"/>
<path d="M137.8 387.2 L141.5 395.7 L145.1 405.4 L147.5 410.3" fill="none" stroke="#e2e2e2" stroke-width="3.55" stroke-linejoin="round" stroke-linecap="round" opacity="0.8"/>
<path d="M147.5 410.3 L153.6 405.4 L156.0 404.2" fill="none" stroke="#e2e2e2" stroke-width="3.55" stroke-linejoin="round" stroke-linecap="round" opacity="0.8"/>
<path d="M147.5 410.3 L145.1 417.5 L141.5 422.0" fill="none" stroke="#e2e2e2" stroke-width="3.55" stroke-linejoin="round" stroke-linecap="round" opacity="0.8"/>
<path d="M147.5 410.3 L153.6 420.0" fill="none" stroke="#e2e2e2" stroke-width="3.55" stroke-linejoin="round" stroke-linecap="round" opacity="0.8"/>
<path d="M105.1 362.0 L114.8 372.0 L120.0 378.0" fill="none" stroke="#e2e2e2" stroke-width="3.55" stroke-linejoin="round" stroke-linecap="round" opacity="0.8"/>
<ellipse cx="66" cy="404" rx="6.5" ry="6.5" fill="#8a8a8a" opacity="0.5"/>
<ellipse cx="117" cy="373" rx="12.5" ry="9.5" fill="#8a8a8a" opacity="0.5"/>
<ellipse cx="72" cy="418" rx="4.5" ry="3.5" fill="#8a8a8a" opacity="0.5"/>
<ellipse cx="75.5" cy="398.4" rx="2.5" ry="2.0" fill="#8a8a8a" opacity="0.5"/>
<ellipse cx="80" cy="354" rx="3.0" ry="3.5" fill="#8a8a8a" opacity="0.5"/>
<ellipse cx="57" cy="369" rx="3.0" ry="3.5" fill="#8a8a8a" opacity="0.5"/>
<ellipse cx="147.5" cy="410" rx="3.0" ry="3.0" fill="#8a8a8a" opacity="0.5"/>
<ellipse cx="106" cy="405" rx="3.0" ry="3.0" fill="#8a8a8a" opacity="0.5"/>
<path d="M33.0 349.5 L42.5 355.5 L50.9 361.5 L56.8 367.4" fill="none" stroke="#3c3c3c" stroke-width="1.15" stroke-linejoin="round" stroke-linecap="round"/>
<path d="M33.0 349.5 L42.5 355.5 L50.9 361.5 L56.8 367.4" fill="none" stroke="#d8d8d8" stroke-width="0.52" stroke-linecap="round" stroke-dasharray="1.2 2.3" opacity="0.7"/>
<path d="M33.0 349.5 L42.5 355.5 L50.9 361.5 L56.8 367.4" fill="none" stroke="#1e1e1e" stroke-width="1.65" stroke-linecap="round" stroke-dasharray="0.8 3.7" opacity="0.8"/>
<path d="M56.8 367.4 L68.8 361.5 L79.5 354.3" fill="none" stroke="#3c3c3c" stroke-width="1.15" stroke-linejoin="round" stroke-linecap="round"/>
<path d="M56.8 367.4 L68.8 361.5 L79.5 354.3" fill="none" stroke="#d8d8d8" stroke-width="0.52" stroke-linecap="round" stroke-dasharray="1.2 2.3" opacity="0.7"/>
<path d="M56.8 367.4 L68.8 361.5 L79.5 354.3" fill="none" stroke="#1e1e1e" stroke-width="1.65" stroke-linecap="round" stroke-dasharray="0.8 3.7" opacity="0.8"/>
<path d="M79.5 354.3 L81.9 347.2 L82.5 340.0" fill="none" stroke="#3c3c3c" stroke-width="1.15" stroke-linejoin="round" stroke-linecap="round"/>
<path d="M79.5 354.3 L81.9 347.2 L82.5 340.0" fill="none" stroke="#d8d8d8" stroke-width="0.52" stroke-linecap="round" stroke-dasharray="1.2 2.3" opacity="0.7"/>
<path d="M79.5 354.3 L81.9 347.2 L82.5 340.0" fill="none" stroke="#1e1e1e" stroke-width="1.65" stroke-linecap="round" stroke-dasharray="0.8 3.7" opacity="0.8"/>
<path d="M79.5 354.3 L86.7 356.7 L95.0 360.3 L105.1 359.4 L114.8 348.5 L111.2 340.0" fill="none" stroke="#3c3c3c" stroke-width="1.15" stroke-linejoin="round" stroke-linecap="round"/>
<path d="M79.5 354.3 L86.7 356.7 L95.0 360.3 L105.1 359.4 L114.8 348.5 L111.2 340.0" fill="none" stroke="#d8d8d8" stroke-width="0.52" stroke-linecap="round" stroke-dasharray="1.2 2.3" opacity="0.7"/>
<path d="M79.5 354.3 L86.7 356.7 L95.0 360.3 L105.1 359.4 L114.8 348.5 L111.2 340.0" fill="none" stroke="#1e1e1e" stroke-width="1.65" stroke-linecap="round" stroke-dasharray="0.8 3.7" opacity="0.8"/>
<path d="M114.8 348.5 L123.3 349.7 L134.2 350.3 L139.0 340.0" fill="none" stroke="#3c3c3c" stroke-width="1.15" stroke-linejoin="round" stroke-linecap="round"/>
<path d="M114.8 348.5 L123.3 349.7 L134.2 350.3 L139.0 340.0" fill="none" stroke="#d8d8d8" stroke-width="0.52" stroke-linecap="round" stroke-dasharray="1.2 2.3" opacity="0.7"/>
<path d="M114.8 348.5 L123.3 349.7 L134.2 350.3 L139.0 340.0" fill="none" stroke="#1e1e1e" stroke-width="1.65" stroke-linecap="round" stroke-dasharray="0.8 3.7" opacity="0.8"/>
<path d="M134.2 350.3 L133.0 355.8 L130.6 364.2" fill="none" stroke="#3c3c3c" stroke-width="1.15" stroke-linejoin="round" stroke-linecap="round"/>
<path d="M134.2 350.3 L133.0 355.8 L130.6 364.2" fill="none" stroke="#d8d8d8" stroke-width="0.52" stroke-linecap="round" stroke-dasharray="1.2 2.3" opacity="0.7"/>
<path d="M134.2 350.3 L133.0 355.8 L130.6 364.2" fill="none" stroke="#1e1e1e" stroke-width="1.65" stroke-linecap="round" stroke-dasharray="0.8 3.7" opacity="0.8"/>
<path d="M148.7 357.0 L151.2 347.3 L153.6 340.0" fill="none" stroke="#3c3c3c" stroke-width="1.15" stroke-linejoin="round" stroke-linecap="round"/>
<path d="M148.7 357.0 L151.2 347.3 L153.6 340.0" fill="none" stroke="#d8d8d8" stroke-width="0.52" stroke-linecap="round" stroke-dasharray="1.2 2.3" opacity="0.7"/>
<path d="M148.7 357.0 L151.2 347.3 L153.6 340.0" fill="none" stroke="#1e1e1e" stroke-width="1.65" stroke-linecap="round" stroke-dasharray="0.8 3.7" opacity="0.8"/>
<path d="M148.7 357.0 L156.0 363.0" fill="none" stroke="#3c3c3c" stroke-width="1.15" stroke-linejoin="round" stroke-linecap="round"/>
<path d="M148.7 357.0 L156.0 363.0" fill="none" stroke="#d8d8d8" stroke-width="0.52" stroke-linecap="round" stroke-dasharray="1.2 2.3" opacity="0.7"/>
<path d="M148.7 357.0 L156.0 363.0" fill="none" stroke="#1e1e1e" stroke-width="1.65" stroke-linecap="round" stroke-dasharray="0.8 3.7" opacity="0.8"/>
<path d="M133.0 364.2 L141.0 361.0 L151.2 361.8 L154.8 370.3 L152.4 380.0 L141.5 384.8" fill="none" stroke="#3c3c3c" stroke-width="1.15" stroke-linejoin="round" stroke-linecap="round"/>
<path d="M133.0 364.2 L141.0 361.0 L151.2 361.8 L154.8 370.3 L152.4 380.0 L141.5 384.8" fill="none" stroke="#d8d8d8" stroke-width="0.52" stroke-linecap="round" stroke-dasharray="1.2 2.3" opacity="0.7"/>
<path d="M133.0 364.2 L141.0 361.0 L151.2 361.8 L154.8 370.3 L152.4 380.0 L141.5 384.8" fill="none" stroke="#1e1e1e" stroke-width="1.65" stroke-linecap="round" stroke-dasharray="0.8 3.7" opacity="0.8"/>
<path d="M56.8 367.4 L54.5 375.8 L44.9 382.9 L42.5 390.1 L40.2 392.5" fill="none" stroke="#3c3c3c" stroke-width="1.15" stroke-linejoin="round" stroke-linecap="round"/>
<path d="M56.8 367.4 L54.5 375.8 L44.9 382.9 L42.5 390.1 L40.2 392.5" fill="none" stroke="#d8d8d8" stroke-width="0.52" stroke-linecap="round" stroke-dasharray="1.2 2.3" opacity="0.7"/>
<path d="M56.8 367.4 L54.5 375.8 L44.9 382.9 L42.5 390.1 L40.2 392.5" fill="none" stroke="#1e1e1e" stroke-width="1.65" stroke-linecap="round" stroke-dasharray="0.8 3.7" opacity="0.8"/>
<path d="M33.0 392.5 L40.2 392.5 L50.9 397.2 L60.4 398.4" fill="none" stroke="#3c3c3c" stroke-width="1.15" stroke-linejoin="round" stroke-linecap="round"/>
<path d="M33.0 392.5 L40.2 392.5 L50.9 397.2 L60.4 398.4" fill="none" stroke="#d8d8d8" stroke-width="0.52" stroke-linecap="round" stroke-dasharray="1.2 2.3" opacity="0.7"/>
<path d="M33.0 392.5 L40.2 392.5 L50.9 397.2 L60.4 398.4" fill="none" stroke="#1e1e1e" stroke-width="1.65" stroke-linecap="round" stroke-dasharray="0.8 3.7" opacity="0.8"/>
<path d="M56.8 375.8 L59.2 385.3 L61.6 394.8 L64.0 400.8" fill="none" stroke="#3c3c3c" stroke-width="1.15" stroke-linejoin="round" stroke-linecap="round"/>
<path d="M56.8 375.8 L59.2 385.3 L61.6 394.8 L64.0 400.8" fill="none" stroke="#d8d8d8" stroke-width="0.52" stroke-linecap="round" stroke-dasharray="1.2 2.3" opacity="0.7"/>
<path d="M56.8 375.8 L59.2 385.3 L61.6 394.8 L64.0 400.8" fill="none" stroke="#1e1e1e" stroke-width="1.65" stroke-linecap="round" stroke-dasharray="0.8 3.7" opacity="0.8"/>
<path d="M64.0 406.8 L60.4 416.3 L58.0 422.0" fill="none" stroke="#3c3c3c" stroke-width="1.15" stroke-linejoin="round" stroke-linecap="round"/>
<path d="M64.0 406.8 L60.4 416.3 L58.0 422.0" fill="none" stroke="#d8d8d8" stroke-width="0.52" stroke-linecap="round" stroke-dasharray="1.2 2.3" opacity="0.7"/>
<path d="M64.0 406.8 L60.4 416.3 L58.0 422.0" fill="none" stroke="#1e1e1e" stroke-width="1.65" stroke-linecap="round" stroke-dasharray="0.8 3.7" opacity="0.8"/>
<path d="M72.3 409.2 L78.3 416.3 L87.8 413.9 L95.0 412.7 L105.1 405.4" fill="none" stroke="#3c3c3c" stroke-width="1.15" stroke-linejoin="round" stroke-linecap="round"/>
<path d="M72.3 409.2 L78.3 416.3 L87.8 413.9 L95.0 412.7 L105.1 405.4" fill="none" stroke="#d8d8d8" stroke-width="0.52" stroke-linecap="round" stroke-dasharray="1.2 2.3" opacity="0.7"/>
<path d="M72.3 409.2 L78.3 416.3 L87.8 413.9 L95.0 412.7 L105.1 405.4" fill="none" stroke="#1e1e1e" stroke-width="1.65" stroke-linecap="round" stroke-dasharray="0.8 3.7" opacity="0.8"/>
<path d="M114.8 380.0 L112.4 390.9 L108.7 400.6 L105.1 405.4" fill="none" stroke="#3c3c3c" stroke-width="1.15" stroke-linejoin="round" stroke-linecap="round"/>
<path d="M114.8 380.0 L112.4 390.9 L108.7 400.6 L105.1 405.4" fill="none" stroke="#d8d8d8" stroke-width="0.52" stroke-linecap="round" stroke-dasharray="1.2 2.3" opacity="0.7"/>
<path d="M114.8 380.0 L112.4 390.9 L108.7 400.6 L105.1 405.4" fill="none" stroke="#1e1e1e" stroke-width="1.65" stroke-linecap="round" stroke-dasharray="0.8 3.7" opacity="0.8"/>
<path d="M105.1 405.4 L111.2 412.7 L113.6 422.0" fill="none" stroke="#3c3c3c" stroke-width="1.15" stroke-linejoin="round" stroke-linecap="round"/>
<path d="M105.1 405.4 L111.2 412.7 L113.6 422.0" fill="none" stroke="#d8d8d8" stroke-width="0.52" stroke-linecap="round" stroke-dasharray="1.2 2.3" opacity="0.7"/>
<path d="M105.1 405.4 L111.2 412.7 L113.6 422.0" fill="none" stroke="#1e1e1e" stroke-width="1.65" stroke-linecap="round" stroke-dasharray="0.8 3.7" opacity="0.8"/>
<path d="M137.8 387.2 L141.5 395.7 L145.1 405.4 L147.5 410.3" fill="none" stroke="#3c3c3c" stroke-width="1.15" stroke-linejoin="round" stroke-linecap="round"/>
<path d="M137.8 387.2 L141.5 395.7 L145.1 405.4 L147.5 410.3" fill="none" stroke="#d8d8d8" stroke-width="0.52" stroke-linecap="round" stroke-dasharray="1.2 2.3" opacity="0.7"/>
<path d="M137.8 387.2 L141.5 395.7 L145.1 405.4 L147.5 410.3" fill="none" stroke="#1e1e1e" stroke-width="1.65" stroke-linecap="round" stroke-dasharray="0.8 3.7" opacity="0.8"/>
<path d="M147.5 410.3 L153.6 405.4 L156.0 404.2" fill="none" stroke="#3c3c3c" stroke-width="1.15" stroke-linejoin="round" stroke-linecap="round"/>
<path d="M147.5 410.3 L153.6 405.4 L156.0 404.2" fill="none" stroke="#d8d8d8" stroke-width="0.52" stroke-linecap="round" stroke-dasharray="1.2 2.3" opacity="0.7"/>
<path d="M147.5 410.3 L153.6 405.4 L156.0 404.2" fill="none" stroke="#1e1e1e" stroke-width="1.65" stroke-linecap="round" stroke-dasharray="0.8 3.7" opacity="0.8"/>
<path d="M147.5 410.3 L145.1 417.5 L141.5 422.0" fill="none" stroke="#3c3c3c" stroke-width="1.15" stroke-linejoin="round" stroke-linecap="round"/>
<path d="M147.5 410.3 L145.1 417.5 L141.5 422.0" fill="none" stroke="#d8d8d8" stroke-width="0.52" stroke-linecap="round" stroke-dasharray="1.2 2.3" opacity="0.7"/>
<path d="M147.5 410.3 L145.1 417.5 L141.5 422.0" fill="none" stroke="#1e1e1e" stroke-width="1.65" stroke-linecap="round" stroke-dasharray="0.8 3.7" opacity="0.8"/>
<path d="M147.5 410.3 L153.6 420.0" fill="none" stroke="#3c3c3c" stroke-width="1.15" stroke-linejoin="round" stroke-linecap="round"/>
<path d="M147.5 410.3 L153.6 420.0" fill="none" stroke="#d8d8d8" stroke-width="0.52" stroke-linecap="round" stroke-dasharray="1.2 2.3" opacity="0.7"/>
<path d="M147.5 410.3 L153.6 420.0" fill="none" stroke="#1e1e1e" stroke-width="1.65" stroke-linecap="round" stroke-dasharray="0.8 3.7" opacity="0.8"/>
<path d="M105.1 362.0 L114.8 372.0 L120.0 378.0" fill="none" stroke="#3c3c3c" stroke-width="1.15" stroke-linejoin="round" stroke-linecap="round"/>
<path d="M105.1 362.0 L114.8 372.0 L120.0 378.0" fill="none" stroke="#d8d8d8" stroke-width="0.52" stroke-linecap="round" stroke-dasharray="1.2 2.3" opacity="0.7"/>
<path d="M105.1 362.0 L114.8 372.0 L120.0 378.0" fill="none" stroke="#1e1e1e" stroke-width="1.65" stroke-linecap="round" stroke-dasharray="0.8 3.7" opacity="0.8"/>
<circle cx="62.1" cy="408.0" r="1.07" fill="#d2d2d2" stroke="#262626" stroke-width="0.85"/>
<circle cx="65.7" cy="409.3" r="1.37" fill="#d2d2d2" stroke="#262626" stroke-width="0.85"/>
<circle cx="69.6" cy="406.9" r="1.17" fill="#d2d2d2" stroke="#262626" stroke-width="0.85"/>
<circle cx="66.7" cy="407.6" r="0.88" fill="#d2d2d2" stroke="#262626" stroke-width="0.85"/>
<circle cx="66.9" cy="406.9" r="1.16" fill="#d2d2d2" stroke="#262626" stroke-width="0.85"/>
<circle cx="64.4" cy="401.8" r="0.81" fill="#d2d2d2" stroke="#262626" stroke-width="0.85"/>
<circle cx="63.7" cy="408.4" r="0.91" fill="#d2d2d2" stroke="#262626" stroke-width="0.85"/>
<circle cx="65.0" cy="406.5" r="1.28" fill="#d2d2d2" stroke="#262626" stroke-width="0.85"/>
<circle cx="64.6" cy="403.6" r="0.86" fill="#d2d2d2" stroke="#262626" stroke-width="0.85"/>
<circle cx="62.5" cy="406.7" r="1.18" fill="#d2d2d2" stroke="#262626" stroke-width="0.85"/>
<circle cx="68.0" cy="405.3" r="1.22" fill="#d2d2d2" stroke="#262626" stroke-width="0.85"/>
<circle cx="63.3" cy="405.7" r="0.98" fill="#d2d2d2" stroke="#262626" stroke-width="0.85"/>
<circle cx="69.2" cy="403.0" r="1.14" fill="#d2d2d2" stroke="#262626" stroke-width="0.85"/>
<circle cx="63.6" cy="407.0" r="1.32" fill="#d2d2d2" stroke="#262626" stroke-width="0.85"/>
<circle cx="69.6" cy="403.9" r="0.92" fill="#d2d2d2" stroke="#262626" stroke-width="0.85"/>
<circle cx="65.6" cy="401.3" r="0.80" fill="#d2d2d2" stroke="#262626" stroke-width="0.85"/>
<circle cx="69.2" cy="401.7" r="1.29" fill="#d2d2d2" stroke="#262626" stroke-width="0.85"/>
<circle cx="61.3" cy="407.1" r="1.08" fill="#d2d2d2" stroke="#262626" stroke-width="0.85"/>
<circle cx="117.8" cy="373.9" r="1.13" fill="#d2d2d2" stroke="#262626" stroke-width="0.85"/>
<circle cx="109.7" cy="366.4" r="0.85" fill="#d2d2d2" stroke="#262626" stroke-width="0.85"/>
<circle cx="111.7" cy="369.2" r="1.10" fill="#d2d2d2" stroke="#262626" stroke-width="0.85"/>
<circle cx="120.9" cy="376.8" r="1.11" fill="#d2d2d2" stroke="#262626" stroke-width="0.85"/>
<circle cx="120.5" cy="371.7" r="1.09" fill="#d2d2d2" stroke="#262626" stroke-width="0.85"/>
<circle cx="121.0" cy="364.7" r="0.92" fill="#d2d2d2" stroke="#262626" stroke-width="0.85"/>
<circle cx="125.2" cy="379.2" r="1.39" fill="#d2d2d2" stroke="#262626" stroke-width="0.85"/>
<circle cx="114.2" cy="373.2" r="1.36" fill="#d2d2d2" stroke="#262626" stroke-width="0.85"/>
<circle cx="108.3" cy="378.5" r="1.17" fill="#d2d2d2" stroke="#262626" stroke-width="0.85"/>
<circle cx="119.2" cy="369.8" r="1.27" fill="#d2d2d2" stroke="#262626" stroke-width="0.85"/>
<circle cx="118.3" cy="378.6" r="1.31" fill="#d2d2d2" stroke="#262626" stroke-width="0.85"/>
<circle cx="119.4" cy="369.6" r="0.93" fill="#d2d2d2" stroke="#262626" stroke-width="0.85"/>
<circle cx="110.0" cy="376.8" r="1.03" fill="#d2d2d2" stroke="#262626" stroke-width="0.85"/>
<circle cx="121.3" cy="376.1" r="1.23" fill="#d2d2d2" stroke="#262626" stroke-width="0.85"/>
<circle cx="118.9" cy="371.9" r="1.14" fill="#d2d2d2" stroke="#262626" stroke-width="0.85"/>
<circle cx="117.1" cy="371.2" r="1.30" fill="#d2d2d2" stroke="#262626" stroke-width="0.85"/>
<circle cx="123.9" cy="377.7" r="1.13" fill="#d2d2d2" stroke="#262626" stroke-width="0.85"/>
<circle cx="112.4" cy="369.4" r="1.05" fill="#d2d2d2" stroke="#262626" stroke-width="0.85"/>
<circle cx="110.2" cy="370.1" r="1.20" fill="#d2d2d2" stroke="#262626" stroke-width="0.85"/>
<circle cx="109.5" cy="375.0" r="0.81" fill="#d2d2d2" stroke="#262626" stroke-width="0.85"/>
<circle cx="110.8" cy="368.7" r="0.94" fill="#d2d2d2" stroke="#262626" stroke-width="0.85"/>
<circle cx="117.9" cy="365.1" r="1.07" fill="#d2d2d2" stroke="#262626" stroke-width="0.85"/>
<circle cx="120.5" cy="378.6" r="0.86" fill="#d2d2d2" stroke="#262626" stroke-width="0.85"/>
<circle cx="122.4" cy="377.3" r="0.86" fill="#d2d2d2" stroke="#262626" stroke-width="0.85"/>
<circle cx="109.0" cy="375.3" r="0.82" fill="#d2d2d2" stroke="#262626" stroke-width="0.85"/>
<circle cx="114.7" cy="371.0" r="1.24" fill="#d2d2d2" stroke="#262626" stroke-width="0.85"/>
<circle cx="118.5" cy="366.7" r="0.83" fill="#d2d2d2" stroke="#262626" stroke-width="0.85"/>
<circle cx="109.6" cy="372.9" r="1.37" fill="#d2d2d2" stroke="#262626" stroke-width="0.85"/>
<circle cx="124.3" cy="379.3" r="1.40" fill="#d2d2d2" stroke="#262626" stroke-width="0.85"/>
<circle cx="115.8" cy="364.9" r="0.92" fill="#d2d2d2" stroke="#262626" stroke-width="0.85"/>
<circle cx="125.4" cy="372.3" r="1.37" fill="#d2d2d2" stroke="#262626" stroke-width="0.85"/>
<circle cx="121.2" cy="371.2" r="1.27" fill="#d2d2d2" stroke="#262626" stroke-width="0.85"/>
<circle cx="119.8" cy="372.0" r="1.01" fill="#d2d2d2" stroke="#262626" stroke-width="0.85"/>
<circle cx="117.2" cy="369.4" r="1.34" fill="#d2d2d2" stroke="#262626" stroke-width="0.85"/>
<circle cx="115.3" cy="381.0" r="0.89" fill="#d2d2d2" stroke="#262626" stroke-width="0.85"/>
<circle cx="105.5" cy="372.9" r="0.92" fill="#d2d2d2" stroke="#262626" stroke-width="0.85"/>
<circle cx="116.3" cy="379.4" r="0.99" fill="#d2d2d2" stroke="#262626" stroke-width="0.85"/>
<circle cx="122.0" cy="373.9" r="0.90" fill="#d2d2d2" stroke="#262626" stroke-width="0.85"/>
<circle cx="126.1" cy="370.1" r="1.34" fill="#d2d2d2" stroke="#262626" stroke-width="0.85"/>
<circle cx="122.2" cy="380.0" r="0.87" fill="#d2d2d2" stroke="#262626" stroke-width="0.85"/>
<circle cx="107.6" cy="371.6" r="1.02" fill="#d2d2d2" stroke="#262626" stroke-width="0.85"/>
<circle cx="123.2" cy="368.2" r="1.15" fill="#d2d2d2" stroke="#262626" stroke-width="0.85"/>
<circle cx="119.9" cy="371.0" r="1.40" fill="#d2d2d2" stroke="#262626" stroke-width="0.85"/>
<circle cx="111.8" cy="368.9" r="1.28" fill="#d2d2d2" stroke="#262626" stroke-width="0.85"/>
<circle cx="115.9" cy="381.9" r="1.15" fill="#d2d2d2" stroke="#262626" stroke-width="0.85"/>
<circle cx="110.3" cy="379.1" r="1.07" fill="#d2d2d2" stroke="#262626" stroke-width="0.85"/>
<circle cx="121.6" cy="380.0" r="0.83" fill="#d2d2d2" stroke="#262626" stroke-width="0.85"/>
<circle cx="119.6" cy="368.9" r="1.18" fill="#d2d2d2" stroke="#262626" stroke-width="0.85"/>
<circle cx="126.1" cy="372.3" r="1.20" fill="#d2d2d2" stroke="#262626" stroke-width="0.85"/>
<circle cx="116.8" cy="373.4" r="0.82" fill="#d2d2d2" stroke="#262626" stroke-width="0.85"/>
<circle cx="122.6" cy="378.7" r="1.06" fill="#d2d2d2" stroke="#262626" stroke-width="0.85"/>
<circle cx="105.7" cy="372.3" r="0.88" fill="#d2d2d2" stroke="#262626" stroke-width="0.85"/>
<circle cx="118.4" cy="380.2" r="0.81" fill="#d2d2d2" stroke="#262626" stroke-width="0.85"/>
<circle cx="124.1" cy="373.1" r="0.86" fill="#d2d2d2" stroke="#262626" stroke-width="0.85"/>
<circle cx="113.5" cy="376.3" r="1.15" fill="#d2d2d2" stroke="#262626" stroke-width="0.85"/>
<circle cx="70.5" cy="417.3" r="1.17" fill="#d2d2d2" stroke="#262626" stroke-width="0.85"/>
<circle cx="70.5" cy="418.2" r="1.36" fill="#d2d2d2" stroke="#262626" stroke-width="0.85"/>
<circle cx="72.1" cy="419.2" r="0.86" fill="#d2d2d2" stroke="#262626" stroke-width="0.85"/>
<circle cx="69.6" cy="415.9" r="1.27" fill="#d2d2d2" stroke="#262626" stroke-width="0.85"/>
<circle cx="70.3" cy="418.9" r="0.81" fill="#d2d2d2" stroke="#262626" stroke-width="0.85"/>
<circle cx="70.2" cy="416.2" r="1.01" fill="#d2d2d2" stroke="#262626" stroke-width="0.85"/>
<circle cx="74.7" cy="397.6" r="1.36" fill="#d2d2d2" stroke="#262626" stroke-width="0.85"/>
<circle cx="75.4" cy="397.7" r="1.34" fill="#d2d2d2" stroke="#262626" stroke-width="0.85"/>
<circle cx="76.9" cy="398.7" r="1.04" fill="#d2d2d2" stroke="#262626" stroke-width="0.85"/>
<circle cx="80.0" cy="354.7" r="1.27" fill="#d2d2d2" stroke="#262626" stroke-width="0.85"/>
<circle cx="81.9" cy="354.2" r="1.36" fill="#d2d2d2" stroke="#262626" stroke-width="0.85"/>
<circle cx="80.7" cy="355.0" r="1.16" fill="#d2d2d2" stroke="#262626" stroke-width="0.85"/>
<circle cx="78.0" cy="353.9" r="1.29" fill="#d2d2d2" stroke="#262626" stroke-width="0.85"/>
<circle cx="80.6" cy="355.5" r="0.98" fill="#d2d2d2" stroke="#262626" stroke-width="0.85"/>
<circle cx="59.2" cy="369.8" r="1.27" fill="#d2d2d2" stroke="#262626" stroke-width="0.85"/>
<circle cx="57.0" cy="368.8" r="1.31" fill="#d2d2d2" stroke="#262626" stroke-width="0.85"/>
<circle cx="56.9" cy="367.0" r="1.25" fill="#d2d2d2" stroke="#262626" stroke-width="0.85"/>
<circle cx="55.9" cy="369.4" r="0.86" fill="#d2d2d2" stroke="#262626" stroke-width="0.85"/>
<circle cx="57.1" cy="369.6" r="1.00" fill="#d2d2d2" stroke="#262626" stroke-width="0.85"/>
<circle cx="147.5" cy="407.9" r="1.31" fill="#d2d2d2" stroke="#262626" stroke-width="0.85"/>
<circle cx="147.2" cy="408.7" r="1.13" fill="#d2d2d2" stroke="#262626" stroke-width="0.85"/>
<circle cx="145.5" cy="410.9" r="1.11" fill="#d2d2d2" stroke="#262626" stroke-width="0.85"/>
<circle cx="147.3" cy="412.0" r="1.38" fill="#d2d2d2" stroke="#262626" stroke-width="0.85"/>
<circle cx="148.0" cy="412.3" r="0.81" fill="#d2d2d2" stroke="#262626" stroke-width="0.85"/>
<circle cx="105.9" cy="406.2" r="1.25" fill="#d2d2d2" stroke="#262626" stroke-width="0.85"/>
<circle cx="108.0" cy="404.3" r="1.00" fill="#d2d2d2" stroke="#262626" stroke-width="0.85"/>
<circle cx="107.0" cy="404.0" r="0.94" fill="#d2d2d2" stroke="#262626" stroke-width="0.85"/>
<circle cx="107.7" cy="403.9" r="1.22" fill="#d2d2d2" stroke="#262626" stroke-width="0.85"/>
<circle cx="104.7" cy="402.9" r="1.08" fill="#d2d2d2" stroke="#262626" stroke-width="0.85"/>
<circle cx="133.7" cy="365.3" r="1.22" fill="#cdcdcd" stroke="#2a2a2a" stroke-width="0.8"/>
<circle cx="134.8" cy="364.5" r="1.06" fill="#cdcdcd" stroke="#2a2a2a" stroke-width="0.8"/>
<circle cx="135.4" cy="362.3" r="1.09" fill="#cdcdcd" stroke="#2a2a2a" stroke-width="0.8"/>
<circle cx="137.3" cy="363.1" r="0.83" fill="#cdcdcd" stroke="#2a2a2a" stroke-width="0.8"/>
<circle cx="139.3" cy="360.8" r="1.26" fill="#cdcdcd" stroke="#2a2a2a" stroke-width="0.8"/>
<circle cx="142.4" cy="360.7" r="0.77" fill="#cdcdcd" stroke="#2a2a2a" stroke-width="0.8"/>
<circle cx="144.0" cy="362.0" r="1.10" fill="#cdcdcd" stroke="#2a2a2a" stroke-width="0.8"/>
<circle cx="147.8" cy="363.0" r="0.79" fill="#cdcdcd" stroke="#2a2a2a" stroke-width="0.8"/>
<circle cx="150.1" cy="362.4" r="1.20" fill="#cdcdcd" stroke="#2a2a2a" stroke-width="0.8"/>
<circle cx="151.1" cy="365.2" r="0.79" fill="#cdcdcd" stroke="#2a2a2a" stroke-width="0.8"/>
<circle cx="152.2" cy="367.3" r="1.27" fill="#cdcdcd" stroke="#2a2a2a" stroke-width="0.8"/>
<circle cx="154.1" cy="366.8" r="0.81" fill="#cdcdcd" stroke="#2a2a2a" stroke-width="0.8"/>
<circle cx="153.6" cy="369.0" r="1.20" fill="#cdcdcd" stroke="#2a2a2a" stroke-width="0.8"/>
<circle cx="153.5" cy="372.2" r="1.10" fill="#cdcdcd" stroke="#2a2a2a" stroke-width="0.8"/>
<circle cx="155.3" cy="373.6" r="0.80" fill="#cdcdcd" stroke="#2a2a2a" stroke-width="0.8"/>
<circle cx="154.8" cy="376.6" r="0.93" fill="#cdcdcd" stroke="#2a2a2a" stroke-width="0.8"/>
<circle cx="154.2" cy="378.6" r="0.89" fill="#cdcdcd" stroke="#2a2a2a" stroke-width="0.8"/>
<circle cx="151.4" cy="379.0" r="0.95" fill="#cdcdcd" stroke="#2a2a2a" stroke-width="0.8"/>
<circle cx="149.2" cy="380.4" r="1.03" fill="#cdcdcd" stroke="#2a2a2a" stroke-width="0.8"/>
<circle cx="147.2" cy="382.6" r="0.77" fill="#cdcdcd" stroke="#2a2a2a" stroke-width="0.8"/>
<circle cx="146.2" cy="383.4" r="1.18" fill="#cdcdcd" stroke="#2a2a2a" stroke-width="0.8"/>
<circle cx="144.2" cy="383.2" r="1.05" fill="#cdcdcd" stroke="#2a2a2a" stroke-width="0.8"/>
<circle cx="142.3" cy="383.2" r="0.80" fill="#cdcdcd" stroke="#2a2a2a" stroke-width="0.8"/>
<circle cx="139.2" cy="384.5" r="0.75" fill="#cdcdcd" stroke="#2a2a2a" stroke-width="0.8"/>
<circle cx="139.2" cy="382.8" r="1.29" fill="#cdcdcd" stroke="#2a2a2a" stroke-width="0.8"/>
<circle cx="137.5" cy="382.8" r="1.02" fill="#cdcdcd" stroke="#2a2a2a" stroke-width="0.8"/>
<circle cx="134.0" cy="381.9" r="1.02" fill="#cdcdcd" stroke="#2a2a2a" stroke-width="0.8"/>
<circle cx="134.5" cy="379.9" r="0.89" fill="#cdcdcd" stroke="#2a2a2a" stroke-width="0.8"/>
<circle cx="131.9" cy="376.7" r="0.87" fill="#cdcdcd" stroke="#2a2a2a" stroke-width="0.8"/>
<circle cx="131.7" cy="374.7" r="0.81" fill="#cdcdcd" stroke="#2a2a2a" stroke-width="0.8"/>
<circle cx="130.5" cy="372.7" r="1.18" fill="#cdcdcd" stroke="#2a2a2a" stroke-width="0.8"/>
<circle cx="132.5" cy="370.7" r="1.10" fill="#cdcdcd" stroke="#2a2a2a" stroke-width="0.8"/>
<circle cx="131.5" cy="369.3" r="0.97" fill="#cdcdcd" stroke="#2a2a2a" stroke-width="0.8"/>
<circle cx="130.9" cy="366.2" r="1.24" fill="#cdcdcd" stroke="#2a2a2a" stroke-width="0.8"/>
<circle cx="126.5" cy="356.5" r="0.89" fill="#cdcdcd" stroke="#2a2a2a" stroke-width="0.8"/>
<circle cx="130.3" cy="356.8" r="0.96" fill="#cdcdcd" stroke="#2a2a2a" stroke-width="0.8"/>
<circle cx="131.6" cy="354.9" r="1.00" fill="#cdcdcd" stroke="#2a2a2a" stroke-width="0.8"/>
<circle cx="133.6" cy="357.0" r="1.16" fill="#cdcdcd" stroke="#2a2a2a" stroke-width="0.8"/>
<circle cx="135.0" cy="354.7" r="0.93" fill="#cdcdcd" stroke="#2a2a2a" stroke-width="0.8"/>
<circle cx="135.8" cy="357.3" r="1.11" fill="#cdcdcd" stroke="#2a2a2a" stroke-width="0.8"/>
<circle cx="138.4" cy="353.8" r="0.99" fill="#cdcdcd" stroke="#2a2a2a" stroke-width="0.8"/>
<circle cx="140.0" cy="355.9" r="0.82" fill="#cdcdcd" stroke="#2a2a2a" stroke-width="0.8"/>
<circle cx="141.1" cy="357.5" r="0.88" fill="#cdcdcd" stroke="#2a2a2a" stroke-width="0.8"/>
<circle cx="142.6" cy="354.6" r="1.14" fill="#cdcdcd" stroke="#2a2a2a" stroke-width="0.8"/>
<circle cx="145.4" cy="354.5" r="0.84" fill="#cdcdcd" stroke="#2a2a2a" stroke-width="0.8"/>
<circle cx="145.8" cy="355.5" r="1.04" fill="#cdcdcd" stroke="#2a2a2a" stroke-width="0.8"/>
<circle cx="147.3" cy="355.9" r="0.85" fill="#cdcdcd" stroke="#2a2a2a" stroke-width="0.8"/>
<circle cx="149.7" cy="358.6" r="0.81" fill="#cdcdcd" stroke="#2a2a2a" stroke-width="0.8"/>
<circle cx="61.4" cy="397.4" r="0.96" fill="#cdcdcd" stroke="#2a2a2a" stroke-width="0.8"/>
<circle cx="60.6" cy="401.1" r="1.15" fill="#cdcdcd" stroke="#2a2a2a" stroke-width="0.8"/>
<circle cx="63.0" cy="399.2" r="1.10" fill="#cdcdcd" stroke="#2a2a2a" stroke-width="0.8"/>
<circle cx="63.8" cy="400.0" r="0.96" fill="#cdcdcd" stroke="#2a2a2a" stroke-width="0.8"/>
<circle cx="64.4" cy="401.6" r="1.19" fill="#cdcdcd" stroke="#2a2a2a" stroke-width="0.8"/>
<circle cx="66.1" cy="403.7" r="1.10" fill="#cdcdcd" stroke="#2a2a2a" stroke-width="0.8"/>
<circle cx="68.2" cy="403.1" r="1.08" fill="#cdcdcd" stroke="#2a2a2a" stroke-width="0.8"/>
<circle cx="67.5" cy="406.3" r="1.25" fill="#cdcdcd" stroke="#2a2a2a" stroke-width="0.8"/>
<circle cx="69.3" cy="406.8" r="1.16" fill="#cdcdcd" stroke="#2a2a2a" stroke-width="0.8"/>
<circle cx="71.9" cy="406.9" r="1.15" fill="#cdcdcd" stroke="#2a2a2a" stroke-width="0.8"/>
<circle cx="71.9" cy="410.8" r="1.14" fill="#cdcdcd" stroke="#2a2a2a" stroke-width="0.8"/>
<circle cx="68.6" cy="415.6" r="1.10" fill="#cdcdcd" stroke="#2a2a2a" stroke-width="0.8"/>
<circle cx="70.5" cy="415.4" r="1.10" fill="#cdcdcd" stroke="#2a2a2a" stroke-width="0.8"/>
<circle cx="71.0" cy="416.6" r="1.18" fill="#cdcdcd" stroke="#2a2a2a" stroke-width="0.8"/>
<circle cx="72.6" cy="419.3" r="0.89" fill="#cdcdcd" stroke="#2a2a2a" stroke-width="0.8"/>
<circle cx="74.0" cy="419.8" r="1.09" fill="#cdcdcd" stroke="#2a2a2a" stroke-width="0.8"/>
<circle cx="74.7" cy="421.7" r="1.26" fill="#cdcdcd" stroke="#2a2a2a" stroke-width="0.8"/>
<circle cx="41.4" cy="370.4" r="1.70" fill="#dadada" opacity="0.8"/>
<circle cx="41.4" cy="370.4" r="0.8" fill="#262626"/>
<circle cx="34.2" cy="409" r="1.70" fill="#dadada" opacity="0.8"/>
<circle cx="34.2" cy="409" r="0.8" fill="#262626"/>
<circle cx="97.8" cy="391" r="1.80" fill="#dadada" opacity="0.8"/>
<circle cx="97.8" cy="391" r="0.9" fill="#262626"/>
<circle cx="96.6" cy="398.5" r="1.70" fill="#dadada" opacity="0.8"/>
<circle cx="96.6" cy="398.5" r="0.8" fill="#262626"/>
</g>
<text x="27.3" y="215" font-size="8.8" text-anchor="middle" textLength="60.7" lengthAdjust="spacingAndGlyphs" stroke="#1a1a1a" stroke-width="0.18" fill="#1a1a1a" transform="rotate(-90 27.3 215)">HUVEC medium</text>
<text x="27.9" y="298.7" font-size="8.8" text-anchor="middle" textLength="41" lengthAdjust="spacingAndGlyphs" stroke="#1a1a1a" stroke-width="0.18" fill="#1a1a1a" transform="rotate(-90 27.9 298.7)">FL19/FDC</text>
<text x="27.8" y="382.2" font-size="8.8" text-anchor="middle" textLength="70" lengthAdjust="spacingAndGlyphs" stroke="#1a1a1a" stroke-width="0.18" fill="#1a1a1a" transform="rotate(-90 27.8 382.2)">FL19/FDC+IDELA</text>
<line x1="213" y1="174" x2="213" y2="254.95000000000002" stroke="#222" stroke-width="1.2"/>
<line x1="213" y1="254.4" x2="327.9" y2="254.4" stroke="#222" stroke-width="1.2"/>
<line x1="210" y1="254.4" x2="213" y2="254.4" stroke="#222" stroke-width="1.1"/>
<text x="206.2" y="257.4" font-size="8.4" text-anchor="end" textLength="4.9" lengthAdjust="spacingAndGlyphs" fill="#1a1a1a" stroke="#1a1a1a" stroke-width="0.2">0</text>
<line x1="210" y1="235.20000000000002" x2="213" y2="235.20000000000002" stroke="#222" stroke-width="1.1"/>
<text x="206.2" y="238.2" font-size="8.4" text-anchor="end" textLength="14.7" lengthAdjust="spacingAndGlyphs" fill="#1a1a1a" stroke="#1a1a1a" stroke-width="0.2">200</text>
<line x1="210" y1="216.0" x2="213" y2="216.0" stroke="#222" stroke-width="1.1"/>
<text x="206.2" y="219.0" font-size="8.4" text-anchor="end" textLength="14.7" lengthAdjust="spacingAndGlyphs" fill="#1a1a1a" stroke="#1a1a1a" stroke-width="0.2">400</text>
<line x1="210" y1="196.8" x2="213" y2="196.8" stroke="#222" stroke-width="1.1"/>
<text x="206.2" y="199.8" font-size="8.4" text-anchor="end" textLength="14.7" lengthAdjust="spacingAndGlyphs" fill="#1a1a1a" stroke="#1a1a1a" stroke-width="0.2">600</text>
<line x1="210" y1="177.60000000000002" x2="213" y2="177.60000000000002" stroke="#222" stroke-width="1.1"/>
<text x="206.2" y="180.6" font-size="8.4" text-anchor="end" textLength="14.7" lengthAdjust="spacingAndGlyphs" fill="#1a1a1a" stroke="#1a1a1a" stroke-width="0.2">800</text>
<line x1="232.3" y1="254.4" x2="232.3" y2="257.2" stroke="#222" stroke-width="1.1"/>
<line x1="270.8" y1="254.4" x2="270.8" y2="257.2" stroke="#222" stroke-width="1.1"/>
<line x1="308.6" y1="254.4" x2="308.6" y2="257.2" stroke="#222" stroke-width="1.1"/>
<line x1="232.45" y1="217.3" x2="232.45" y2="218.1" stroke="#333" stroke-width="1.1"/>
<line x1="232.45" y1="234.8" x2="232.45" y2="237.8" stroke="#333" stroke-width="1.1"/>
<line x1="226.2" y1="217.3" x2="238.8" y2="217.3" stroke="#333" stroke-width="1.1"/>
<line x1="226.2" y1="237.8" x2="238.8" y2="237.8" stroke="#333" stroke-width="1.1"/>
<rect x="219.8" y="218.1" width="25.299999999999983" height="16.700000000000017" fill="#9c83aa"/>
<line x1="219.8" y1="223.4" x2="245.1" y2="223.4" stroke="#111" stroke-width="1.7"/>
<line x1="270.85" y1="197.2" x2="270.85" y2="202" stroke="#333" stroke-width="1.1"/>
<line x1="270.85" y1="210.5" x2="270.85" y2="211.7" stroke="#333" stroke-width="1.1"/>
<line x1="264.6" y1="197.2" x2="276.9" y2="197.2" stroke="#333" stroke-width="1.1"/>
<line x1="264.6" y1="211.7" x2="276.9" y2="211.7" stroke="#333" stroke-width="1.1"/>
<rect x="258.2" y="202" width="25.30000000000001" height="8.5" fill="#e08d7e"/>
<line x1="258.2" y1="206.2" x2="283.5" y2="206.2" stroke="#111" stroke-width="1.7"/>
<line x1="309.1" y1="205.2" x2="309.1" y2="209.6" stroke="#333" stroke-width="1.1"/>
<line x1="309.1" y1="219.8" x2="309.1" y2="221.9" stroke="#333" stroke-width="1.1"/>
<line x1="303.1" y1="205.2" x2="315.4" y2="205.2" stroke="#333" stroke-width="1.1"/>
<line x1="303.1" y1="221.9" x2="315.4" y2="221.9" stroke="#333" stroke-width="1.1"/>
<rect x="296.3" y="209.6" width="25.599999999999966" height="10.200000000000017" fill="#97a0cc"/>
<line x1="296.3" y1="215.3" x2="321.9" y2="215.3" stroke="#111" stroke-width="1.7"/>
<line x1="231.8" y1="182.7" x2="269.2" y2="182.7" stroke="#333" stroke-width="1.1"/>
<text x="250.3" y="181.6" font-size="8.5" text-anchor="middle" font-weight="bold" fill="#1a1a1a" stroke="#1a1a1a" stroke-width="0.35">**</text>
<line x1="270.5" y1="190" x2="308.2" y2="190" stroke="#333" stroke-width="1.1"/>
<text x="288.9" y="188.9" font-size="8.5" text-anchor="middle" font-weight="bold" fill="#1a1a1a" stroke="#1a1a1a" stroke-width="0.35">**</text>
<text x="186" y="212.6" font-size="10.2" text-anchor="middle" textLength="54.5" lengthAdjust="spacingAndGlyphs" stroke="#1a1a1a" stroke-width="0.38" fill="#1a1a1a" transform="rotate(-90 186 212.6)">Number of nodes</text>
<text x="232.3" y="268.7" font-size="8.3" text-anchor="middle" textLength="29.3" lengthAdjust="spacingAndGlyphs" fill="#1a1a1a" stroke="#1a1a1a" stroke-width="0.2">HUVEC</text>
<text x="232.3" y="279.3" font-size="7.9" text-anchor="middle" textLength="28.8" lengthAdjust="spacingAndGlyphs" fill="#1a1a1a" stroke="#1a1a1a" stroke-width="0.1">medium</text>
<text x="270.8" y="268.7" font-size="8.3" text-anchor="middle" textLength="30" lengthAdjust="spacingAndGlyphs" fill="#1a1a1a" stroke="#1a1a1a" stroke-width="0.2">FL/FDC</text>
<text x="308.6" y="268.7" font-size="8.3" text-anchor="middle" textLength="30" lengthAdjust="spacingAndGlyphs" fill="#1a1a1a" stroke="#1a1a1a" stroke-width="0.2">FL/FDC</text>
<text x="308.6" y="278.7" font-size="8.3" text-anchor="middle" textLength="31" lengthAdjust="spacingAndGlyphs" fill="#1a1a1a" stroke="#1a1a1a" stroke-width="0.2">+ IDELA</text>
<text x="270.65000000000003" y="293.5" font-size="10.3" text-anchor="middle" textLength="56" lengthAdjust="spacingAndGlyphs" fill="#1a1a1a" stroke="#1a1a1a" stroke-width="0.3">Sensitive patients</text>
<line x1="382" y1="174.5" x2="382" y2="255.15" stroke="#222" stroke-width="1.2"/>
<line x1="382" y1="254.6" x2="498" y2="254.6" stroke="#222" stroke-width="1.2"/>
<line x1="379" y1="254.6" x2="382" y2="254.6" stroke="#222" stroke-width="1.1"/>
<text x="375.6" y="257.6" font-size="8.4" text-anchor="end" textLength="4.9" lengthAdjust="spacingAndGlyphs" fill="#1a1a1a" stroke="#1a1a1a" stroke-width="0.2">0</text>
<line x1="379" y1="235.29999999999998" x2="382" y2="235.29999999999998" stroke="#222" stroke-width="1.1"/>
<text x="375.6" y="238.3" font-size="8.4" text-anchor="end" textLength="9.8" lengthAdjust="spacingAndGlyphs" fill="#1a1a1a" stroke="#1a1a1a" stroke-width="0.2">50</text>
<line x1="379" y1="216.0" x2="382" y2="216.0" stroke="#222" stroke-width="1.1"/>
<text x="375.6" y="219.0" font-size="8.4" text-anchor="end" textLength="14.7" lengthAdjust="spacingAndGlyphs" fill="#1a1a1a" stroke="#1a1a1a" stroke-width="0.2">100</text>
<line x1="379" y1="196.7" x2="382" y2="196.7" stroke="#222" stroke-width="1.1"/>
<text x="375.6" y="199.7" font-size="8.4" text-anchor="end" textLength="14.7" lengthAdjust="spacingAndGlyphs" fill="#1a1a1a" stroke="#1a1a1a" stroke-width="0.2">150</text>
<line x1="379" y1="177.39999999999998" x2="382" y2="177.39999999999998" stroke="#222" stroke-width="1.1"/>
<text x="375.6" y="180.4" font-size="8.4" text-anchor="end" textLength="14.7" lengthAdjust="spacingAndGlyphs" fill="#1a1a1a" stroke="#1a1a1a" stroke-width="0.2">200</text>
<line x1="401.3" y1="254.6" x2="401.3" y2="257.4" stroke="#222" stroke-width="1.1"/>
<line x1="439.9" y1="254.6" x2="439.9" y2="257.4" stroke="#222" stroke-width="1.1"/>
<line x1="478.5" y1="254.6" x2="478.5" y2="257.4" stroke="#222" stroke-width="1.1"/>
<line x1="401.1" y1="213" x2="401.1" y2="214.4" stroke="#333" stroke-width="1.1"/>
<line x1="401.1" y1="231.8" x2="401.1" y2="234.3" stroke="#333" stroke-width="1.1"/>
<line x1="396.4" y1="213" x2="407.4" y2="213" stroke="#333" stroke-width="1.1"/>
<line x1="396.4" y1="234.3" x2="407.4" y2="234.3" stroke="#333" stroke-width="1.1"/>
<rect x="388.4" y="214.4" width="25.400000000000034" height="17.400000000000006" fill="#9c83aa"/>
<line x1="388.4" y1="220.8" x2="413.8" y2="220.8" stroke="#111" stroke-width="1.7"/>
<line x1="439.9" y1="190.7" x2="439.9" y2="196.1" stroke="#333" stroke-width="1.1"/>
<line x1="439.9" y1="206.5" x2="439.9" y2="209.2" stroke="#333" stroke-width="1.1"/>
<line x1="434" y1="190.7" x2="446" y2="190.7" stroke="#333" stroke-width="1.1"/>
<line x1="434" y1="209.2" x2="446" y2="209.2" stroke="#333" stroke-width="1.1"/>
<rect x="427.1" y="196.1" width="25.599999999999966" height="10.400000000000006" fill="#e08d7e"/>
<line x1="427.1" y1="203.2" x2="452.7" y2="203.2" stroke="#111" stroke-width="1.7"/>
<line x1="478.55" y1="198" x2="478.55" y2="203.2" stroke="#333" stroke-width="1.1"/>
<line x1="478.55" y1="216.7" x2="478.55" y2="219.3" stroke="#333" stroke-width="1.1"/>
<line x1="472.4" y1="198" x2="484.9" y2="198" stroke="#333" stroke-width="1.1"/>
<line x1="472.4" y1="219.3" x2="484.9" y2="219.3" stroke="#333" stroke-width="1.1"/>
<rect x="466" y="203.2" width="25.100000000000023" height="13.5" fill="#97a0cc"/>
<line x1="466" y1="213.6" x2="491.1" y2="213.6" stroke="#111" stroke-width="1.7"/>
<line x1="401.1" y1="179.4" x2="439.8" y2="179.4" stroke="#333" stroke-width="1.1"/>
<text x="420.3" y="178.1" font-size="8.5" text-anchor="middle" font-weight="bold" fill="#1a1a1a" stroke="#1a1a1a" stroke-width="0.35">**</text>
<line x1="440.5" y1="184.2" x2="478.2" y2="184.2" stroke="#333" stroke-width="1.1"/>
<text x="459.5" y="183.1" font-size="8.5" text-anchor="middle" font-weight="bold" fill="#1a1a1a" stroke="#1a1a1a" stroke-width="0.35">**</text>
<text x="354.6" y="214.1" font-size="10.2" text-anchor="middle" textLength="64.4" lengthAdjust="spacingAndGlyphs" stroke="#1a1a1a" stroke-width="0.38" fill="#1a1a1a" transform="rotate(-90 354.6 214.1)">Number of junctions</text>
<text x="401.3" y="268.9" font-size="8.3" text-anchor="middle" textLength="29.3" lengthAdjust="spacingAndGlyphs" fill="#1a1a1a" stroke="#1a1a1a" stroke-width="0.2">HUVEC</text>
<text x="401.3" y="279.5" font-size="7.9" text-anchor="middle" textLength="28.8" lengthAdjust="spacingAndGlyphs" fill="#1a1a1a" stroke="#1a1a1a" stroke-width="0.1">medium</text>
<text x="439.9" y="268.9" font-size="8.3" text-anchor="middle" textLength="30" lengthAdjust="spacingAndGlyphs" fill="#1a1a1a" stroke="#1a1a1a" stroke-width="0.2">FL/FDC</text>
<text x="478.5" y="268.9" font-size="8.3" text-anchor="middle" textLength="30" lengthAdjust="spacingAndGlyphs" fill="#1a1a1a" stroke="#1a1a1a" stroke-width="0.2">FL/FDC</text>
<text x="478.5" y="278.9" font-size="8.3" text-anchor="middle" textLength="31" lengthAdjust="spacingAndGlyphs" fill="#1a1a1a" stroke="#1a1a1a" stroke-width="0.2">+ IDELA</text>
<text x="440.09999999999997" y="293.7" font-size="10.3" text-anchor="middle" textLength="56" lengthAdjust="spacingAndGlyphs" fill="#1a1a1a" stroke="#1a1a1a" stroke-width="0.3">Sensitive patients</text>
<line x1="213.5" y1="312.5" x2="213.5" y2="393.55" stroke="#222" stroke-width="1.2"/>
<line x1="213.5" y1="393" x2="328" y2="393" stroke="#222" stroke-width="1.2"/>
<line x1="210.5" y1="393.0" x2="213.5" y2="393.0" stroke="#222" stroke-width="1.1"/>
<text x="206.4" y="396.0" font-size="8.4" text-anchor="end" textLength="4.9" lengthAdjust="spacingAndGlyphs" fill="#1a1a1a" stroke="#1a1a1a" stroke-width="0.2">0</text>
<line x1="210.5" y1="373.6" x2="213.5" y2="373.6" stroke="#222" stroke-width="1.1"/>
<text x="206.4" y="376.6" font-size="8.4" text-anchor="end" textLength="14.7" lengthAdjust="spacingAndGlyphs" fill="#1a1a1a" stroke="#1a1a1a" stroke-width="0.2">200</text>
<line x1="210.5" y1="354.2" x2="213.5" y2="354.2" stroke="#222" stroke-width="1.1"/>
<text x="206.4" y="357.2" font-size="8.4" text-anchor="end" textLength="14.7" lengthAdjust="spacingAndGlyphs" fill="#1a1a1a" stroke="#1a1a1a" stroke-width="0.2">400</text>
<line x1="210.5" y1="334.8" x2="213.5" y2="334.8" stroke="#222" stroke-width="1.1"/>
<text x="206.4" y="337.8" font-size="8.4" text-anchor="end" textLength="14.7" lengthAdjust="spacingAndGlyphs" fill="#1a1a1a" stroke="#1a1a1a" stroke-width="0.2">600</text>
<line x1="210.5" y1="315.4" x2="213.5" y2="315.4" stroke="#222" stroke-width="1.1"/>
<text x="206.4" y="318.4" font-size="8.4" text-anchor="end" textLength="14.7" lengthAdjust="spacingAndGlyphs" fill="#1a1a1a" stroke="#1a1a1a" stroke-width="0.2">800</text>
<line x1="232.3" y1="393" x2="232.3" y2="395.8" stroke="#222" stroke-width="1.1"/>
<line x1="271.2" y1="393" x2="271.2" y2="395.8" stroke="#222" stroke-width="1.1"/>
<line x1="309.9" y1="393" x2="309.9" y2="395.8" stroke="#222" stroke-width="1.1"/>
<line x1="232.5" y1="355.5" x2="232.5" y2="356.75" stroke="#333" stroke-width="1.1"/>
<line x1="232.5" y1="373" x2="232.5" y2="376.5" stroke="#333" stroke-width="1.1"/>
<line x1="226.25" y1="355.5" x2="238.75" y2="355.5" stroke="#333" stroke-width="1.1"/>
<line x1="226.25" y1="376.5" x2="238.75" y2="376.5" stroke="#333" stroke-width="1.1"/>
<rect x="220" y="356.75" width="25" height="16.25" fill="#9c83aa"/>
<line x1="220" y1="361.75" x2="245" y2="361.75" stroke="#111" stroke-width="1.7"/>
<line x1="271.25" y1="337" x2="271.25" y2="340.25" stroke="#333" stroke-width="1.1"/>
<line x1="271.25" y1="350.5" x2="271.25" y2="351.25" stroke="#333" stroke-width="1.1"/>
<line x1="265" y1="337" x2="277.5" y2="337" stroke="#333" stroke-width="1.1"/>
<line x1="265" y1="351.25" x2="277.5" y2="351.25" stroke="#333" stroke-width="1.1"/>
<rect x="258.75" y="340.25" width="25.0" height="10.25" fill="#e08d7e"/>
<line x1="258.75" y1="345.75" x2="283.75" y2="345.75" stroke="#111" stroke-width="1.7"/>
<line x1="310.0" y1="337" x2="310.0" y2="340" stroke="#333" stroke-width="1.1"/>
<line x1="310.0" y1="364.5" x2="310.0" y2="370.5" stroke="#333" stroke-width="1.1"/>
<line x1="303.75" y1="337" x2="316.25" y2="337" stroke="#333" stroke-width="1.1"/>
<line x1="303.75" y1="370.5" x2="316.25" y2="370.5" stroke="#333" stroke-width="1.1"/>
<rect x="297.5" y="340" width="25.0" height="24.5" fill="#97a0cc"/>
<line x1="297.5" y1="349" x2="322.5" y2="349" stroke="#111" stroke-width="1.7"/>
<line x1="231.75" y1="330.25" x2="270.5" y2="330.25" stroke="#333" stroke-width="1.1"/>
<text x="251.75" y="329.1" font-size="8.5" text-anchor="middle" font-weight="bold" fill="#1a1a1a" stroke="#1a1a1a" stroke-width="0.35">**</text>
<line x1="272" y1="323.25" x2="308.25" y2="323.25" stroke="#333" stroke-width="1.1"/>
<text x="290" y="320.5" font-size="8" text-anchor="middle" fill="#333" stroke="#333" stroke-width="0.2">ns</text>
<text x="186.3" y="352.3" font-size="10.2" text-anchor="middle" textLength="54.5" lengthAdjust="spacingAndGlyphs" stroke="#1a1a1a" stroke-width="0.38" fill="#1a1a1a" transform="rotate(-90 186.3 352.3)">Number of nodes</text>
<text x="232.3" y="407.6" font-size="8.3" text-anchor="middle" textLength="29.3" lengthAdjust="spacingAndGlyphs" fill="#1a1a1a" stroke="#1a1a1a" stroke-width="0.2">HUVEC</text>
<text x="232.3" y="418.20000000000005" font-size="7.9" text-anchor="middle" textLength="28.8" lengthAdjust="spacingAndGlyphs" fill="#1a1a1a" stroke="#1a1a1a" stroke-width="0.1">medium</text>
<text x="271.2" y="407.6" font-size="8.3" text-anchor="middle" textLength="30" lengthAdjust="spacingAndGlyphs" fill="#1a1a1a" stroke="#1a1a1a" stroke-width="0.2">FL/FDC</text>
<text x="309.9" y="407.6" font-size="8.3" text-anchor="middle" textLength="30" lengthAdjust="spacingAndGlyphs" fill="#1a1a1a" stroke="#1a1a1a" stroke-width="0.2">FL/FDC</text>
<text x="309.9" y="417.6" font-size="8.3" text-anchor="middle" textLength="31" lengthAdjust="spacingAndGlyphs" fill="#1a1a1a" stroke="#1a1a1a" stroke-width="0.2">+ IDELA</text>
<text x="271.3" y="432.40000000000003" font-size="10.3" text-anchor="middle" textLength="56" lengthAdjust="spacingAndGlyphs" fill="#1a1a1a" stroke="#1a1a1a" stroke-width="0.3">Resistant patients</text>
<line x1="382.2" y1="312.2" x2="382.2" y2="392.55" stroke="#222" stroke-width="1.2"/>
<line x1="382.2" y1="392" x2="498" y2="392" stroke="#222" stroke-width="1.2"/>
<line x1="379.2" y1="392.0" x2="382.2" y2="392.0" stroke="#222" stroke-width="1.1"/>
<text x="376" y="395.0" font-size="8.4" text-anchor="end" textLength="4.9" lengthAdjust="spacingAndGlyphs" fill="#1a1a1a" stroke="#1a1a1a" stroke-width="0.2">0</text>
<line x1="379.2" y1="372.7" x2="382.2" y2="372.7" stroke="#222" stroke-width="1.1"/>
<text x="376" y="375.7" font-size="8.4" text-anchor="end" textLength="9.8" lengthAdjust="spacingAndGlyphs" fill="#1a1a1a" stroke="#1a1a1a" stroke-width="0.2">50</text>
<line x1="379.2" y1="353.4" x2="382.2" y2="353.4" stroke="#222" stroke-width="1.1"/>
<text x="376" y="356.4" font-size="8.4" text-anchor="end" textLength="14.7" lengthAdjust="spacingAndGlyphs" fill="#1a1a1a" stroke="#1a1a1a" stroke-width="0.2">100</text>
<line x1="379.2" y1="334.1" x2="382.2" y2="334.1" stroke="#222" stroke-width="1.1"/>
<text x="376" y="337.1" font-size="8.4" text-anchor="end" textLength="14.7" lengthAdjust="spacingAndGlyphs" fill="#1a1a1a" stroke="#1a1a1a" stroke-width="0.2">150</text>
<line x1="379.2" y1="314.8" x2="382.2" y2="314.8" stroke="#222" stroke-width="1.1"/>
<text x="376" y="317.8" font-size="8.4" text-anchor="end" textLength="14.7" lengthAdjust="spacingAndGlyphs" fill="#1a1a1a" stroke="#1a1a1a" stroke-width="0.2">200</text>
<line x1="401.5" y1="392" x2="401.5" y2="394.8" stroke="#222" stroke-width="1.1"/>
<line x1="440" y1="392" x2="440" y2="394.8" stroke="#222" stroke-width="1.1"/>
<line x1="478.7" y1="392" x2="478.7" y2="394.8" stroke="#222" stroke-width="1.1"/>
<line x1="401.625" y1="350.5" x2="401.625" y2="352" stroke="#333" stroke-width="1.1"/>
<line x1="401.625" y1="369.25" x2="401.625" y2="371.75" stroke="#333" stroke-width="1.1"/>
<line x1="396.25" y1="350.5" x2="407.5" y2="350.5" stroke="#333" stroke-width="1.1"/>
<line x1="396.25" y1="371.75" x2="407.5" y2="371.75" stroke="#333" stroke-width="1.1"/>
<rect x="388.75" y="352" width="25.75" height="17.25" fill="#9c83aa"/>
<line x1="388.75" y1="358.25" x2="414.5" y2="358.25" stroke="#111" stroke-width="1.7"/>
<line x1="440.0" y1="330" x2="440.0" y2="333.75" stroke="#333" stroke-width="1.1"/>
<line x1="440.0" y1="344.25" x2="440.0" y2="345.25" stroke="#333" stroke-width="1.1"/>
<line x1="433.75" y1="330" x2="446.75" y2="330" stroke="#333" stroke-width="1.1"/>
<line x1="433.75" y1="345.25" x2="446.75" y2="345.25" stroke="#333" stroke-width="1.1"/>
<rect x="427" y="333.75" width="26" height="10.5" fill="#e08d7e"/>
<line x1="427" y1="340.75" x2="453" y2="340.75" stroke="#111" stroke-width="1.7"/>
<line x1="479.0" y1="331.25" x2="479.0" y2="334.5" stroke="#333" stroke-width="1.1"/>
<line x1="479.0" y1="350.75" x2="479.0" y2="354" stroke="#333" stroke-width="1.1"/>
<line x1="472.5" y1="331.25" x2="485" y2="331.25" stroke="#333" stroke-width="1.1"/>
<line x1="472.5" y1="354" x2="485" y2="354" stroke="#333" stroke-width="1.1"/>
<rect x="466.25" y="334.5" width="25.5" height="16.25" fill="#97a0cc"/>
<line x1="466.25" y1="343.25" x2="491.75" y2="343.25" stroke="#111" stroke-width="1.7"/>
<line x1="401.75" y1="324.25" x2="437.5" y2="324.25" stroke="#333" stroke-width="1.1"/>
<text x="420" y="322.35" font-size="8.5" text-anchor="middle" font-weight="bold" fill="#1a1a1a" stroke="#1a1a1a" stroke-width="0.35">**</text>
<line x1="440.5" y1="316.25" x2="478" y2="316.25" stroke="#333" stroke-width="1.1"/>
<text x="459.25" y="313.0" font-size="8" text-anchor="middle" fill="#333" stroke="#333" stroke-width="0.2">ns</text>
<text x="354.6" y="351.9" font-size="10.2" text-anchor="middle" textLength="64.2" lengthAdjust="spacingAndGlyphs" stroke="#1a1a1a" stroke-width="0.38" fill="#1a1a1a" transform="rotate(-90 354.6 351.9)">Number of junctions</text>
<text x="401.5" y="407.6" font-size="8.3" text-anchor="middle" textLength="29.3" lengthAdjust="spacingAndGlyphs" fill="#1a1a1a" stroke="#1a1a1a" stroke-width="0.2">HUVEC</text>
<text x="401.5" y="418.20000000000005" font-size="7.9" text-anchor="middle" textLength="28.8" lengthAdjust="spacingAndGlyphs" fill="#1a1a1a" stroke="#1a1a1a" stroke-width="0.1">medium</text>
<text x="440" y="407.6" font-size="8.3" text-anchor="middle" textLength="30" lengthAdjust="spacingAndGlyphs" fill="#1a1a1a" stroke="#1a1a1a" stroke-width="0.2">FL/FDC</text>
<text x="478.7" y="407.6" font-size="8.3" text-anchor="middle" textLength="30" lengthAdjust="spacingAndGlyphs" fill="#1a1a1a" stroke="#1a1a1a" stroke-width="0.2">FL/FDC</text>
<text x="478.7" y="417.6" font-size="8.3" text-anchor="middle" textLength="31" lengthAdjust="spacingAndGlyphs" fill="#1a1a1a" stroke="#1a1a1a" stroke-width="0.2">+ IDELA</text>
<text x="440.3" y="432.40000000000003" font-size="10.3" text-anchor="middle" textLength="56" lengthAdjust="spacingAndGlyphs" fill="#1a1a1a" stroke="#1a1a1a" stroke-width="0.3">Resistant patients</text>
<text x="6.4" y="455.8" font-size="13.3" font-weight="bold" fill="#000" stroke="#000" stroke-width="0.35">C</text>
<text x="24.8" y="452.4" font-size="8.8" textLength="43.2" lengthAdjust="spacingAndGlyphs" fill="#79b25a" stroke="#79b25a" stroke-width="0.2">SENSITIVE</text>
<text x="71.6" y="452.4" font-size="8.8" textLength="45.7" lengthAdjust="spacingAndGlyphs" fill="#d89440" stroke="#d89440" stroke-width="0.2">RESISTANT</text>
<line x1="39.7" y1="460.4" x2="68.5" y2="460.4" stroke="#4a6ea8" stroke-width="1.1"/>
<line x1="70.9" y1="460.4" x2="99.8" y2="460.4" stroke="#4a6ea8" stroke-width="1.1"/>
<text x="47.1" y="472" font-size="8.2" text-anchor="middle" fill="#1a1a1a" stroke="#1a1a1a" stroke-width="0.2">-</text>
<text x="60.1" y="472" font-size="8.2" text-anchor="middle" fill="#1a1a1a" stroke="#1a1a1a" stroke-width="0.2">+</text>
<text x="78.1" y="472" font-size="8.2" text-anchor="middle" fill="#1a1a1a" stroke="#1a1a1a" stroke-width="0.2">-</text>
<text x="90.9" y="472" font-size="8.2" text-anchor="middle" fill="#1a1a1a" stroke="#1a1a1a" stroke-width="0.2">+</text>
<text x="104.6" y="471.9" font-size="8.3" textLength="24" lengthAdjust="spacingAndGlyphs" fill="#1a1a1a" stroke="#1a1a1a" stroke-width="0.2">IDELA</text>
<rect x="38" y="476.90" width="15.7" height="8.35" fill="#ff5b5b" stroke="#ffffff" stroke-opacity="0.35" stroke-width="0.5"/>
<rect x="53.7" y="476.90" width="15.7" height="8.35" fill="#0000ff" stroke="#ffffff" stroke-opacity="0.35" stroke-width="0.5"/>
<rect x="69.4" y="476.90" width="15.7" height="8.35" fill="#ff4747" stroke="#ffffff" stroke-opacity="0.35" stroke-width="0.5"/>
<rect x="85.1" y="476.90" width="15.7" height="8.35" fill="#ff0000" stroke="#ffffff" stroke-opacity="0.35" stroke-width="0.5"/>
<text x="104.7" y="484.2" font-size="8.4" fill="#1a1a1a" stroke="#1a1a1a" stroke-width="0.2">ITGBL1</text>
<rect x="38" y="485.25" width="15.7" height="8.35" fill="#ffc6c6" stroke="#ffffff" stroke-opacity="0.35" stroke-width="0.5"/>
<rect x="53.7" y="485.25" width="15.7" height="8.35" fill="#0000ff" stroke="#ffffff" stroke-opacity="0.35" stroke-width="0.5"/>
<rect x="69.4" y="485.25" width="15.7" height="8.35" fill="#ff6464" stroke="#ffffff" stroke-opacity="0.35" stroke-width="0.5"/>
<rect x="85.1" y="485.25" width="15.7" height="8.35" fill="#ff0000" stroke="#ffffff" stroke-opacity="0.35" stroke-width="0.5"/>
<text x="104.7" y="492.55" font-size="8.4" fill="#1a1a1a" stroke="#1a1a1a" stroke-width="0.2">ITGB1</text>
<rect x="38" y="493.60" width="15.7" height="8.35" fill="#ff0a0a" stroke="#ffffff" stroke-opacity="0.35" stroke-width="0.5"/>
<rect x="53.7" y="493.60" width="15.7" height="8.35" fill="#0000ff" stroke="#ffffff" stroke-opacity="0.35" stroke-width="0.5"/>
<rect x="69.4" y="493.60" width="15.7" height="8.35" fill="#e2e2f8" stroke="#ffffff" stroke-opacity="0.35" stroke-width="0.5"/>
<rect x="85.1" y="493.60" width="15.7" height="8.35" fill="#ff0000" stroke="#ffffff" stroke-opacity="0.35" stroke-width="0.5"/>
<text x="104.7" y="500.9" font-size="8.4" fill="#1a1a1a" stroke="#1a1a1a" stroke-width="0.2">ITGA6</text>
<rect x="38" y="501.95" width="15.7" height="8.35" fill="#ff9090" stroke="#ffffff" stroke-opacity="0.35" stroke-width="0.5"/>
<rect x="53.7" y="501.95" width="15.7" height="8.35" fill="#0000ff" stroke="#ffffff" stroke-opacity="0.35" stroke-width="0.5"/>
<rect x="69.4" y="501.95" width="15.7" height="8.35" fill="#ff0808" stroke="#ffffff" stroke-opacity="0.35" stroke-width="0.5"/>
<rect x="85.1" y="501.95" width="15.7" height="8.35" fill="#ff0000" stroke="#ffffff" stroke-opacity="0.35" stroke-width="0.5"/>
<text x="104.7" y="509.25" font-size="8.4" fill="#1a1a1a" stroke="#1a1a1a" stroke-width="0.2">ITGA2</text>
<rect x="38" y="516.60" width="15.7" height="8.52" fill="#ff4d4d" stroke="#ffffff" stroke-opacity="0.35" stroke-width="0.5"/>
<rect x="53.7" y="516.60" width="15.7" height="8.52" fill="#0000ff" stroke="#ffffff" stroke-opacity="0.35" stroke-width="0.5"/>
<rect x="69.4" y="516.60" width="15.7" height="8.52" fill="#ff1a1a" stroke="#ffffff" stroke-opacity="0.35" stroke-width="0.5"/>
<rect x="85.1" y="516.60" width="15.7" height="8.52" fill="#ff0000" stroke="#ffffff" stroke-opacity="0.35" stroke-width="0.5"/>
<text x="104.7" y="523.9" font-size="8.4" fill="#1a1a1a" stroke="#1a1a1a" stroke-width="0.2">COL1A2</text>
<rect x="38" y="525.12" width="15.7" height="8.52" fill="#ff9a9a" stroke="#ffffff" stroke-opacity="0.35" stroke-width="0.5"/>
<rect x="53.7" y="525.12" width="15.7" height="8.52" fill="#0000ff" stroke="#ffffff" stroke-opacity="0.35" stroke-width="0.5"/>
<rect x="69.4" y="525.12" width="15.7" height="8.52" fill="#ff0000" stroke="#ffffff" stroke-opacity="0.35" stroke-width="0.5"/>
<rect x="85.1" y="525.12" width="15.7" height="8.52" fill="#ff1212" stroke="#ffffff" stroke-opacity="0.35" stroke-width="0.5"/>
<text x="104.7" y="532.42" font-size="8.4" fill="#1a1a1a" stroke="#1a1a1a" stroke-width="0.2">COL3A1</text>
<rect x="38" y="533.64" width="15.7" height="8.52" fill="#ff7a7a" stroke="#ffffff" stroke-opacity="0.35" stroke-width="0.5"/>
<rect x="53.7" y="533.64" width="15.7" height="8.52" fill="#0000ff" stroke="#ffffff" stroke-opacity="0.35" stroke-width="0.5"/>
<rect x="69.4" y="533.64" width="15.7" height="8.52" fill="#ff0000" stroke="#ffffff" stroke-opacity="0.35" stroke-width="0.5"/>
<rect x="85.1" y="533.64" width="15.7" height="8.52" fill="#ff1212" stroke="#ffffff" stroke-opacity="0.35" stroke-width="0.5"/>
<text x="104.7" y="540.94" font-size="8.4" fill="#1a1a1a" stroke="#1a1a1a" stroke-width="0.2">COL6A3</text>
<rect x="38" y="542.16" width="15.7" height="8.52" fill="#ff6a6a" stroke="#ffffff" stroke-opacity="0.35" stroke-width="0.5"/>
<rect x="53.7" y="542.16" width="15.7" height="8.52" fill="#0000ff" stroke="#ffffff" stroke-opacity="0.35" stroke-width="0.5"/>
<rect x="69.4" y="542.16" width="15.7" height="8.52" fill="#ff1010" stroke="#ffffff" stroke-opacity="0.35" stroke-width="0.5"/>
<rect x="85.1" y="542.16" width="15.7" height="8.52" fill="#ff0000" stroke="#ffffff" stroke-opacity="0.35" stroke-width="0.5"/>
<text x="104.7" y="549.46" font-size="8.4" fill="#1a1a1a" stroke="#1a1a1a" stroke-width="0.2">COL1A1</text>
<rect x="38" y="550.68" width="15.7" height="8.52" fill="#ffd2d2" stroke="#ffffff" stroke-opacity="0.35" stroke-width="0.5"/>
<rect x="53.7" y="550.68" width="15.7" height="8.52" fill="#0000ff" stroke="#ffffff" stroke-opacity="0.35" stroke-width="0.5"/>
<rect x="69.4" y="550.68" width="15.7" height="8.52" fill="#ff4545" stroke="#ffffff" stroke-opacity="0.35" stroke-width="0.5"/>
<rect x="85.1" y="550.68" width="15.7" height="8.52" fill="#ff0000" stroke="#ffffff" stroke-opacity="0.35" stroke-width="0.5"/>
<text x="104.7" y="557.98" font-size="8.4" fill="#1a1a1a" stroke="#1a1a1a" stroke-width="0.2">FN1</text>
<rect x="38" y="559.20" width="15.7" height="8.52" fill="#fff6f6" stroke="#ffffff" stroke-opacity="0.35" stroke-width="0.5"/>
<rect x="53.7" y="559.20" width="15.7" height="8.52" fill="#0000ff" stroke="#ffffff" stroke-opacity="0.35" stroke-width="0.5"/>
<rect x="69.4" y="559.20" width="15.7" height="8.52" fill="#ff0000" stroke="#ffffff" stroke-opacity="0.35" stroke-width="0.5"/>
<rect x="85.1" y="559.20" width="15.7" height="8.52" fill="#ff3c3c" stroke="#ffffff" stroke-opacity="0.35" stroke-width="0.5"/>
<text x="104.7" y="566.5" font-size="8.4" fill="#1a1a1a" stroke="#1a1a1a" stroke-width="0.2">LAMB1</text>
<rect x="38" y="567.72" width="15.7" height="8.52" fill="#ffb0b0" stroke="#ffffff" stroke-opacity="0.35" stroke-width="0.5"/>
<rect x="53.7" y="567.72" width="15.7" height="8.52" fill="#0000ff" stroke="#ffffff" stroke-opacity="0.35" stroke-width="0.5"/>
<rect x="69.4" y="567.72" width="15.7" height="8.52" fill="#ff9393" stroke="#ffffff" stroke-opacity="0.35" stroke-width="0.5"/>
<rect x="85.1" y="567.72" width="15.7" height="8.52" fill="#ff0000" stroke="#ffffff" stroke-opacity="0.35" stroke-width="0.5"/>
<text x="104.7" y="575.02" font-size="8.4" fill="#1a1a1a" stroke="#1a1a1a" stroke-width="0.2">LAMA4</text>
<rect x="38" y="576.24" width="15.7" height="8.52" fill="#d8dcff" stroke="#ffffff" stroke-opacity="0.35" stroke-width="0.5"/>
<rect x="53.7" y="576.24" width="15.7" height="8.52" fill="#0000ff" stroke="#ffffff" stroke-opacity="0.35" stroke-width="0.5"/>
<rect x="69.4" y="576.24" width="15.7" height="8.52" fill="#ff5252" stroke="#ffffff" stroke-opacity="0.35" stroke-width="0.5"/>
<rect x="85.1" y="576.24" width="15.7" height="8.52" fill="#ff0000" stroke="#ffffff" stroke-opacity="0.35" stroke-width="0.5"/>
<text x="104.7" y="583.54" font-size="8.4" fill="#1a1a1a" stroke="#1a1a1a" stroke-width="0.2">LAMB2</text>
<rect x="38" y="584.76" width="15.7" height="8.52" fill="#ff8a8a" stroke="#ffffff" stroke-opacity="0.35" stroke-width="0.5"/>
<rect x="53.7" y="584.76" width="15.7" height="8.52" fill="#0000ff" stroke="#ffffff" stroke-opacity="0.35" stroke-width="0.5"/>
<rect x="69.4" y="584.76" width="15.7" height="8.52" fill="#ff0000" stroke="#ffffff" stroke-opacity="0.35" stroke-width="0.5"/>
<rect x="85.1" y="584.76" width="15.7" height="8.52" fill="#ff5050" stroke="#ffffff" stroke-opacity="0.35" stroke-width="0.5"/>
<text x="104.7" y="592.06" font-size="8.4" fill="#1a1a1a" stroke="#1a1a1a" stroke-width="0.2">TNC</text>
<rect x="38" y="593.28" width="15.7" height="8.52" fill="#ffc0c0" stroke="#ffffff" stroke-opacity="0.35" stroke-width="0.5"/>
<rect x="53.7" y="593.28" width="15.7" height="8.52" fill="#0000ff" stroke="#ffffff" stroke-opacity="0.35" stroke-width="0.5"/>
<rect x="69.4" y="593.28" width="15.7" height="8.52" fill="#ff6262" stroke="#ffffff" stroke-opacity="0.35" stroke-width="0.5"/>
<rect x="85.1" y="593.28" width="15.7" height="8.52" fill="#ff0000" stroke="#ffffff" stroke-opacity="0.35" stroke-width="0.5"/>
<text x="104.7" y="600.58" font-size="8.4" fill="#1a1a1a" stroke="#1a1a1a" stroke-width="0.2">CYR61</text>
<rect x="38" y="601.80" width="15.7" height="8.52" fill="#ff6c6c" stroke="#ffffff" stroke-opacity="0.35" stroke-width="0.5"/>
<rect x="53.7" y="601.80" width="15.7" height="8.52" fill="#0000ff" stroke="#ffffff" stroke-opacity="0.35" stroke-width="0.5"/>
<rect x="69.4" y="601.80" width="15.7" height="8.52" fill="#ff6262" stroke="#ffffff" stroke-opacity="0.35" stroke-width="0.5"/>
<rect x="85.1" y="601.80" width="15.7" height="8.52" fill="#ff0000" stroke="#ffffff" stroke-opacity="0.35" stroke-width="0.5"/>
<text x="104.7" y="609.1" font-size="8.4" fill="#1a1a1a" stroke="#1a1a1a" stroke-width="0.2">THBS1</text>
<rect x="141.9" y="475.3" width="21.9" height="37.1" fill="#c5c0e0"/>
<text x="156.1" y="494" font-size="8.6" text-anchor="middle" textLength="32" lengthAdjust="spacingAndGlyphs" fill="#1a1a1a" transform="rotate(-90 156.1 494)">Integrins</text>
<rect x="141.9" y="519.6" width="21.9" height="91.2" fill="#b8d1f0"/>
<text x="156.1" y="565.4" font-size="8.6" text-anchor="middle" textLength="50.8" lengthAdjust="spacingAndGlyphs" fill="#1a1a1a" transform="rotate(-90 156.1 565.4)">ECM proteins</text>
<defs><linearGradient id="gb" x1="0" x2="1" y1="0" y2="0"><stop offset="0" stop-color="#0000ff"/><stop offset="0.5" stop-color="#ffffff"/><stop offset="1" stop-color="#ff0000"/></linearGradient></defs>
<rect x="33.8" y="618.2" width="50.4" height="2.6" fill="url(#gb)"/>
<text x="19.5" y="627.7" font-size="7" textLength="22.5" lengthAdjust="spacingAndGlyphs" fill="#1a1a1a" stroke="#1a1a1a" stroke-width="0.08">row min</text>
<text x="71.5" y="627.7" font-size="7" textLength="24.3" lengthAdjust="spacingAndGlyphs" fill="#1a1a1a" stroke="#1a1a1a" stroke-width="0.08">row max</text>
<rect x="29.8" y="635.4" width="129" height="10.2" fill="#c9c9c9"/>
<rect x="29.8" y="635.4" width="129" height="30.1" fill="none" stroke="#222" stroke-width="0.9"/>
<line x1="29.8" y1="645.6" x2="158.8" y2="645.6" stroke="#222" stroke-width="0.9"/>
<line x1="29.8" y1="655.6" x2="158.8" y2="655.6" stroke="#222" stroke-width="0.9"/>
<line x1="72.1" y1="635.4" x2="72.1" y2="665.5" stroke="#222" stroke-width="0.9"/>
<text x="34.4" y="643.3" font-size="7" textLength="32.3" lengthAdjust="spacingAndGlyphs" fill="#1a1a1a" stroke="#1a1a1a" stroke-width="0.08">INTEGRIN</text>
<text x="74.3" y="643.3" font-size="7" textLength="29.3" lengthAdjust="spacingAndGlyphs" fill="#1a1a1a" stroke="#1a1a1a" stroke-width="0.08">LIGANDS</text>
<text x="35.8" y="653.3" font-size="6.6" textLength="17" lengthAdjust="spacingAndGlyphs" fill="#1a1a1a" stroke="#1a1a1a" stroke-width="0.08">α2β1</text>
<text x="74.3" y="653.3" font-size="6.6" textLength="83.2" lengthAdjust="spacingAndGlyphs" fill="#1a1a1a" stroke="#1a1a1a" stroke-width="0.08">Collagens, laminin, tenascin.</text>
<text x="35.8" y="663.3" font-size="6.6" textLength="17" lengthAdjust="spacingAndGlyphs" fill="#1a1a1a" stroke="#1a1a1a" stroke-width="0.08">α6β1</text>
<text x="74.3" y="663.3" font-size="6.6" textLength="67.8" lengthAdjust="spacingAndGlyphs" fill="#1a1a1a" stroke="#1a1a1a" stroke-width="0.08">Laminin, THBS1, Cyr61</text>
<text x="201" y="455.6" font-size="13.3" font-weight="bold" fill="#000" stroke="#000" stroke-width="0.35">D</text>
<text x="245.4" y="453.9" font-size="10" textLength="159.4" lengthAdjust="spacingAndGlyphs" fill="#1a1a1a" stroke="#1a1a1a" stroke-width="0.2">FL ADHESION TO HUVEC CELLS</text>
<rect x="252" y="484.3" width="26.1" height="61.49999999999994" fill="#cc8678"/>
<rect x="285" y="517" width="26.1" height="28.799999999999955" fill="#929cc4"/>
<rect x="338.9" y="506.5" width="25.6" height="39.299999999999955" fill="#cc8678"/>
<rect x="372.2" y="518" width="26.3" height="27.799999999999955" fill="#929cc4"/>
<line x1="244.4" y1="545.8" x2="247.6" y2="545.8" stroke="#1a1a1a" stroke-width="1.1"/>
<text x="241.3" y="548.6" font-size="8" text-anchor="end" textLength="4.95" lengthAdjust="spacingAndGlyphs" fill="#1a1a1a" stroke="#1a1a1a" stroke-width="0.2">0</text>
<line x1="244.4" y1="528.56" x2="247.6" y2="528.56" stroke="#1a1a1a" stroke-width="1.1"/>
<text x="241.3" y="531.36" font-size="8" text-anchor="end" textLength="19.8" lengthAdjust="spacingAndGlyphs" fill="#1a1a1a" stroke="#1a1a1a" stroke-width="0.2">2000</text>
<line x1="244.4" y1="511.32" x2="247.6" y2="511.32" stroke="#1a1a1a" stroke-width="1.1"/>
<text x="241.3" y="514.12" font-size="8" text-anchor="end" textLength="19.8" lengthAdjust="spacingAndGlyphs" fill="#1a1a1a" stroke="#1a1a1a" stroke-width="0.2">4000</text>
<line x1="244.4" y1="494.08" x2="247.6" y2="494.08" stroke="#1a1a1a" stroke-width="1.1"/>
<text x="241.3" y="496.88" font-size="8" text-anchor="end" textLength="19.8" lengthAdjust="spacingAndGlyphs" fill="#1a1a1a" stroke="#1a1a1a" stroke-width="0.2">6000</text>
<line x1="244.4" y1="476.84000000000003" x2="247.6" y2="476.84000000000003" stroke="#1a1a1a" stroke-width="1.1"/>
<text x="241.3" y="479.64" font-size="8" text-anchor="end" textLength="19.8" lengthAdjust="spacingAndGlyphs" fill="#1a1a1a" stroke="#1a1a1a" stroke-width="0.2">8000</text>
<line x1="244.4" y1="459.6" x2="247.6" y2="459.6" stroke="#1a1a1a" stroke-width="1.1"/>
<text x="241.3" y="462.4" font-size="8" text-anchor="end" textLength="24.75" lengthAdjust="spacingAndGlyphs" fill="#1a1a1a" stroke="#1a1a1a" stroke-width="0.2">10000</text>
<line x1="247.6" y1="459.6" x2="247.6" y2="546.3499999999999" stroke="#1a1a1a" stroke-width="1.2"/>
<line x1="247.0" y1="459.6" x2="401.9" y2="459.6" stroke="#1a1a1a" stroke-width="1.2"/>
<line x1="401.9" y1="459.0" x2="401.9" y2="546.4" stroke="#1a1a1a" stroke-width="1.2"/>
<line x1="325" y1="459.6" x2="325" y2="545.8" stroke="#1a1a1a" stroke-width="1.2"/>
<line x1="244.4" y1="545.8" x2="402.5" y2="545.8" stroke="#1a1a1a" stroke-width="1.2"/>
<line x1="264.9" y1="545.8" x2="264.9" y2="548.4" stroke="#1a1a1a" stroke-width="1"/>
<line x1="298.2" y1="545.8" x2="298.2" y2="548.4" stroke="#1a1a1a" stroke-width="1"/>
<line x1="351.8" y1="545.8" x2="351.8" y2="548.4" stroke="#1a1a1a" stroke-width="1"/>
<line x1="385.1" y1="545.8" x2="385.1" y2="548.4" stroke="#1a1a1a" stroke-width="1"/>
<line x1="264.9" y1="472.8" x2="298.2" y2="502" stroke="#222" stroke-width="0.75"/>
<line x1="264.9" y1="486.8" x2="298.2" y2="524.2" stroke="#222" stroke-width="0.75"/>
<line x1="264.9" y1="492.6" x2="298.2" y2="525.8" stroke="#222" stroke-width="0.75"/>
<circle cx="264.9" cy="472.8" r="1.75" fill="#c40a2c" stroke="#141414" stroke-width="0.75"/>
<circle cx="298.2" cy="502" r="1.75" fill="#28508c" stroke="#141414" stroke-width="0.75"/>
<circle cx="264.9" cy="486.8" r="1.75" fill="#c40a2c" stroke="#141414" stroke-width="0.75"/>
<circle cx="298.2" cy="524.2" r="1.75" fill="#28508c" stroke="#141414" stroke-width="0.75"/>
<circle cx="264.9" cy="492.6" r="1.75" fill="#c40a2c" stroke="#141414" stroke-width="0.75"/>
<circle cx="298.2" cy="525.8" r="1.75" fill="#28508c" stroke="#141414" stroke-width="0.75"/>
<line x1="351.8" y1="493.5" x2="385.1" y2="507.4" stroke="#222" stroke-width="0.75"/>
<line x1="351.8" y1="493.5" x2="385.1" y2="508.8" stroke="#222" stroke-width="0.75"/>
<line x1="351.8" y1="517.3" x2="385.1" y2="514.3" stroke="#222" stroke-width="0.75"/>
<line x1="351.8" y1="524.9" x2="385.1" y2="520.1" stroke="#222" stroke-width="0.75"/>
<line x1="351.8" y1="538.8" x2="385.1" y2="538.1" stroke="#222" stroke-width="0.75"/>
<circle cx="351.8" cy="493.5" r="1.75" fill="#c40a2c" stroke="#141414" stroke-width="0.75"/>
<circle cx="385.1" cy="507.4" r="1.75" fill="#28508c" stroke="#141414" stroke-width="0.75"/>
<circle cx="351.8" cy="493.5" r="1.75" fill="#c40a2c" stroke="#141414" stroke-width="0.75"/>
<circle cx="385.1" cy="508.8" r="1.75" fill="#28508c" stroke="#141414" stroke-width="0.75"/>
<circle cx="351.8" cy="517.3" r="1.75" fill="#c40a2c" stroke="#141414" stroke-width="0.75"/>
<circle cx="385.1" cy="514.3" r="1.75" fill="#28508c" stroke="#141414" stroke-width="0.75"/>
<circle cx="351.8" cy="524.9" r="1.75" fill="#c40a2c" stroke="#141414" stroke-width="0.75"/>
<circle cx="385.1" cy="520.1" r="1.75" fill="#28508c" stroke="#141414" stroke-width="0.75"/>
<circle cx="351.8" cy="538.8" r="1.75" fill="#c40a2c" stroke="#141414" stroke-width="0.75"/>
<circle cx="385.1" cy="538.1" r="1.75" fill="#28508c" stroke="#141414" stroke-width="0.75"/>
<text x="282.2" y="472.4" font-size="8.5" text-anchor="middle" font-weight="bold" fill="#1a1a1a" stroke="#1a1a1a" stroke-width="0.35">**</text>
<text x="367.3" y="470.2" font-size="7.2" text-anchor="middle" fill="#333" stroke="#333" stroke-width="0.2">ns</text>
<text x="210.3" y="504.3" font-size="10.5" text-anchor="middle" textLength="69" lengthAdjust="spacingAndGlyphs" stroke="#1a1a1a" stroke-width="0.38" fill="#1a1a1a" transform="rotate(-90 210.3 504.3)">Calcein release (RFU)</text>
<text x="264.9" y="560" font-size="8.1" text-anchor="middle" textLength="27.8" lengthAdjust="spacingAndGlyphs" fill="#1a1a1a" stroke="#1a1a1a" stroke-width="0.2">FL/FDC</text>
<text x="298.2" y="560" font-size="8.1" text-anchor="middle" textLength="27.8" lengthAdjust="spacingAndGlyphs" fill="#1a1a1a" stroke="#1a1a1a" stroke-width="0.2">FL/FDC</text>
<text x="298.5" y="568.8" font-size="8.1" text-anchor="middle" textLength="28" lengthAdjust="spacingAndGlyphs" fill="#1a1a1a" stroke="#1a1a1a" stroke-width="0.2">+IDELA</text>
<text x="351.8" y="560" font-size="8.1" text-anchor="middle" textLength="27.8" lengthAdjust="spacingAndGlyphs" fill="#1a1a1a" stroke="#1a1a1a" stroke-width="0.2">FL/FDC</text>
<text x="385.1" y="560" font-size="8.1" text-anchor="middle" textLength="27.8" lengthAdjust="spacingAndGlyphs" fill="#1a1a1a" stroke="#1a1a1a" stroke-width="0.2">FL/FDC</text>
<text x="385.40000000000003" y="568.8" font-size="8.1" text-anchor="middle" textLength="28" lengthAdjust="spacingAndGlyphs" fill="#1a1a1a" stroke="#1a1a1a" stroke-width="0.2">+IDELA</text>
<text x="281.3" y="583" font-size="9.6" text-anchor="middle" textLength="28.5" lengthAdjust="spacingAndGlyphs" fill="#1a1a1a" stroke="#1a1a1a" stroke-width="0.3">Sensitive</text>
<text x="368.5" y="583.1" font-size="9.6" text-anchor="middle" textLength="28.6" lengthAdjust="spacingAndGlyphs" fill="#1a1a1a" stroke="#1a1a1a" stroke-width="0.3">Resistant</text>
<text x="201.6" y="606.6" font-size="12.9" font-weight="bold" fill="#000" stroke="#000" stroke-width="0.35">E</text>
<text x="243.6" y="605.4" font-size="10" textLength="167.5" lengthAdjust="spacingAndGlyphs" fill="#1a1a1a" stroke="#1a1a1a" stroke-width="0.2">TRANS-ENDOTHELIAL MIGRATION</text>
<rect x="252" y="662.9" width="26.1" height="31.399999999999977" fill="#cc8678"/>
<rect x="286.2" y="682.3" width="26.5" height="12.0" fill="#929cc4"/>
<rect x="340.3" y="692" width="27" height="2.2999999999999545" fill="#cc8678"/>
<rect x="374.2" y="689.2" width="26.6" height="5.099999999999909" fill="#929cc4"/>
<line x1="244.4" y1="694.3" x2="247.6" y2="694.3" stroke="#1a1a1a" stroke-width="1.1"/>
<text x="241.3" y="697.1" font-size="8" text-anchor="end" textLength="16.4" lengthAdjust="spacingAndGlyphs" fill="#1a1a1a" stroke="#1a1a1a" stroke-width="0.2">0.00</text>
<line x1="244.4" y1="666.3" x2="247.6" y2="666.3" stroke="#1a1a1a" stroke-width="1.1"/>
<text x="241.3" y="669.1" font-size="8" text-anchor="end" textLength="16.4" lengthAdjust="spacingAndGlyphs" fill="#1a1a1a" stroke="#1a1a1a" stroke-width="0.2">0.05</text>
<line x1="244.4" y1="638.3" x2="247.6" y2="638.3" stroke="#1a1a1a" stroke-width="1.1"/>
<text x="241.3" y="641.1" font-size="8" text-anchor="end" textLength="16.4" lengthAdjust="spacingAndGlyphs" fill="#1a1a1a" stroke="#1a1a1a" stroke-width="0.2">0.10</text>
<line x1="244.4" y1="610.3" x2="247.6" y2="610.3" stroke="#1a1a1a" stroke-width="1.1"/>
<text x="241.3" y="613.1" font-size="8" text-anchor="end" textLength="16.4" lengthAdjust="spacingAndGlyphs" fill="#1a1a1a" stroke="#1a1a1a" stroke-width="0.2">0.15</text>
<line x1="247.6" y1="610.3" x2="247.6" y2="694.8499999999999" stroke="#1a1a1a" stroke-width="1.2"/>
<line x1="247.0" y1="610.3" x2="405.9" y2="610.3" stroke="#1a1a1a" stroke-width="1.2"/>
<line x1="405.9" y1="609.6999999999999" x2="405.9" y2="694.9" stroke="#1a1a1a" stroke-width="1.2"/>
<line x1="326.5" y1="610.3" x2="326.5" y2="694.3" stroke="#1a1a1a" stroke-width="1.2"/>
<line x1="244.4" y1="694.3" x2="406.5" y2="694.3" stroke="#1a1a1a" stroke-width="1.2"/>
<line x1="264.9" y1="694.3" x2="264.9" y2="696.9" stroke="#1a1a1a" stroke-width="1"/>
<line x1="299.3" y1="694.3" x2="299.3" y2="696.9" stroke="#1a1a1a" stroke-width="1"/>
<line x1="353.9" y1="694.3" x2="353.9" y2="696.9" stroke="#1a1a1a" stroke-width="1"/>
<line x1="387.6" y1="694.3" x2="387.6" y2="696.9" stroke="#1a1a1a" stroke-width="1"/>
<line x1="264.9" y1="625.8" x2="299.3" y2="676.1" stroke="#222" stroke-width="0.75"/>
<line x1="264.9" y1="637.5" x2="299.3" y2="660.6" stroke="#222" stroke-width="0.75"/>
<line x1="264.9" y1="648.6" x2="299.3" y2="684.6" stroke="#222" stroke-width="0.75"/>
<line x1="264.9" y1="683.7" x2="299.3" y2="690.4" stroke="#222" stroke-width="0.75"/>
<line x1="264.9" y1="690.8" x2="299.3" y2="691.5" stroke="#222" stroke-width="0.75"/>
<circle cx="264.9" cy="625.8" r="1.75" fill="#c40a2c" stroke="#141414" stroke-width="0.75"/>
<circle cx="299.3" cy="676.1" r="1.75" fill="#28508c" stroke="#141414" stroke-width="0.75"/>
<circle cx="264.9" cy="637.5" r="1.75" fill="#c40a2c" stroke="#141414" stroke-width="0.75"/>
<circle cx="299.3" cy="660.6" r="1.75" fill="#28508c" stroke="#141414" stroke-width="0.75"/>
<circle cx="264.9" cy="648.6" r="1.75" fill="#c40a2c" stroke="#141414" stroke-width="0.75"/>
<circle cx="299.3" cy="684.6" r="1.75" fill="#28508c" stroke="#141414" stroke-width="0.75"/>
<circle cx="264.9" cy="683.7" r="1.75" fill="#c40a2c" stroke="#141414" stroke-width="0.75"/>
<circle cx="299.3" cy="690.4" r="1.75" fill="#28508c" stroke="#141414" stroke-width="0.75"/>
<circle cx="264.9" cy="690.8" r="1.75" fill="#c40a2c" stroke="#141414" stroke-width="0.75"/>
<circle cx="299.3" cy="691.5" r="1.75" fill="#28508c" stroke="#141414" stroke-width="0.75"/>
<line x1="353.9" y1="691.5" x2="387.6" y2="681.2" stroke="#222" stroke-width="0.75"/>
<line x1="353.9" y1="691.5" x2="387.6" y2="687.4" stroke="#222" stroke-width="0.75"/>
<line x1="353.9" y1="691.5" x2="387.6" y2="691.5" stroke="#222" stroke-width="0.75"/>
<circle cx="353.9" cy="691.5" r="1.75" fill="#c40a2c" stroke="#141414" stroke-width="0.75"/>
<circle cx="387.6" cy="681.2" r="1.75" fill="#28508c" stroke="#141414" stroke-width="0.75"/>
<circle cx="353.9" cy="691.5" r="1.75" fill="#c40a2c" stroke="#141414" stroke-width="0.75"/>
<circle cx="387.6" cy="687.4" r="1.75" fill="#28508c" stroke="#141414" stroke-width="0.75"/>
<circle cx="353.9" cy="691.5" r="1.75" fill="#c40a2c" stroke="#141414" stroke-width="0.75"/>
<circle cx="387.6" cy="691.5" r="1.75" fill="#28508c" stroke="#141414" stroke-width="0.75"/>
<text x="283.8" y="639.8" font-size="8.4" fill="#1a1a1a" textLength="35.8" lengthAdjust="spacingAndGlyphs"><tspan font-style="italic">P</tspan> = .0646</text>
<text x="367.3" y="675.5" font-size="7.2" text-anchor="middle" fill="#333" stroke="#333" stroke-width="0.2">ns</text>
<text x="219.4" y="652" font-size="10.5" text-anchor="middle" textLength="46.5" lengthAdjust="spacingAndGlyphs" stroke="#1a1a1a" stroke-width="0.38" fill="#1a1a1a" transform="rotate(-90 219.4 652)">Migration ratio</text>
<text x="264.9" y="708.4" font-size="8.1" text-anchor="middle" textLength="27.8" lengthAdjust="spacingAndGlyphs" fill="#1a1a1a" stroke="#1a1a1a" stroke-width="0.2">FL/FDC</text>
<text x="299.3" y="708.4" font-size="8.1" text-anchor="middle" textLength="27.8" lengthAdjust="spacingAndGlyphs" fill="#1a1a1a" stroke="#1a1a1a" stroke-width="0.2">FL/FDC</text>
<text x="299.6" y="717.1" font-size="8.1" text-anchor="middle" textLength="28" lengthAdjust="spacingAndGlyphs" fill="#1a1a1a" stroke="#1a1a1a" stroke-width="0.2">+IDELA</text>
<text x="353.9" y="708.4" font-size="8.1" text-anchor="middle" textLength="27.8" lengthAdjust="spacingAndGlyphs" fill="#1a1a1a" stroke="#1a1a1a" stroke-width="0.2">FL/FDC</text>
<text x="387.6" y="708.4" font-size="8.1" text-anchor="middle" textLength="27.8" lengthAdjust="spacingAndGlyphs" fill="#1a1a1a" stroke="#1a1a1a" stroke-width="0.2">FL/FDC</text>
<text x="387.90000000000003" y="717.1" font-size="8.1" text-anchor="middle" textLength="28" lengthAdjust="spacingAndGlyphs" fill="#1a1a1a" stroke="#1a1a1a" stroke-width="0.2">+IDELA</text>
<text x="282" y="730.8" font-size="9.6" text-anchor="middle" textLength="28.5" lengthAdjust="spacingAndGlyphs" fill="#1a1a1a" stroke="#1a1a1a" stroke-width="0.3">Sensitive</text>
<text x="370.8" y="731.2" font-size="9.6" text-anchor="middle" textLength="28.6" lengthAdjust="spacingAndGlyphs" fill="#1a1a1a" stroke="#1a1a1a" stroke-width="0.3">Resistant</text>
</svg>
</body></html>
